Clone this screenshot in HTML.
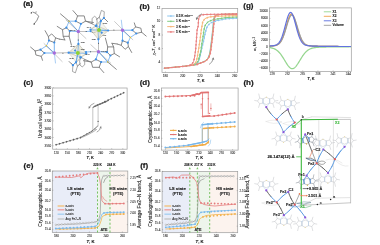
<!DOCTYPE html>
<html><head><meta charset="utf-8"><style>
html,body{margin:0;padding:0;background:#fff;width:380px;height:245px;overflow:hidden}
svg{display:block;font-family:"Liberation Sans",sans-serif;will-change:transform}
</style></head><body><svg width="380" height="245" viewBox="0 0 380 245">
<rect x="0" y="0" width="380" height="245" fill="#fff"/>
<polygon points="78.4,43.9 68.6,52.7 80.4,57.5" fill="#ebe8d6" fill-opacity="0.45" stroke="#b4b2a0" stroke-width="0.35"/>
<polygon points="78.4,43.9 80.4,57.5 86.3,53.5" fill="#ebe8d6" fill-opacity="0.45" stroke="#b4b2a0" stroke-width="0.35"/>
<polygon points="76.4,62.3 68.6,52.7 80.4,57.5" fill="#ebe8d6" fill-opacity="0.45" stroke="#b4b2a0" stroke-width="0.35"/>
<polygon points="76.4,62.3 80.4,57.5 86.3,53.5" fill="#ebe8d6" fill-opacity="0.45" stroke="#b4b2a0" stroke-width="0.35"/>
<polygon points="78.4,43.9 68.6,52.7 75.1,50.5" fill="#ebe8d6" fill-opacity="0.45" stroke="#b4b2a0" stroke-width="0.35"/>
<polygon points="78.4,43.9 75.1,50.5 86.3,53.5" fill="#ebe8d6" fill-opacity="0.45" stroke="#b4b2a0" stroke-width="0.35"/>
<polyline points="72.9,65.2 72.5,71.5 75.4,72.8 77.5,66.1 75.9,62.3 72.9,65.2" fill="none" stroke="#7c7c7c" stroke-width="0.65" stroke-linejoin="round" stroke-linecap="round" />
<line x1="72.9" y1="65.2" x2="71.2" y2="63.6" stroke="#7c7c7c" stroke-width="0.9" stroke-linecap="round"/>
<line x1="71.2" y1="63.6" x2="69.1" y2="61.5" stroke="#7c7c7c" stroke-width="0.9" stroke-linecap="round"/>
<polyline points="80.9,57.3 84.7,59.4 84.7,64.8 82.2,66.9 80.1,65.2 79.6,61 80.9,57.3" fill="none" stroke="#7c7c7c" stroke-width="0.65" stroke-linejoin="round" stroke-linecap="round" />
<line x1="77.5" y1="66.1" x2="80.1" y2="63.8" stroke="#7c7c7c" stroke-width="0.9" stroke-linecap="round"/>
<line x1="84.7" y1="59.4" x2="90.6" y2="61.9" stroke="#7c7c7c" stroke-width="0.9" stroke-linecap="round"/>
<line x1="72.9" y1="65.2" x2="75.9" y2="62.3" stroke="#3d8fe6" stroke-width="0.8" stroke-linecap="round"/>
<line x1="75.9" y1="62.3" x2="77.8" y2="53.1" stroke="#3d8fe6" stroke-width="0.6" stroke-linecap="round"/>
<polyline points="75.7,21.2 77.6,15.9 84.2,15.9 85.5,21.2 80.9,23.8 75.7,21.2" fill="none" stroke="#7c7c7c" stroke-width="0.9" stroke-linejoin="round" stroke-linecap="round" />
<line x1="77.6" y1="15.9" x2="73" y2="10.6" stroke="#7c7c7c" stroke-width="0.9" stroke-linecap="round"/>
<line x1="85.5" y1="21.2" x2="93.4" y2="22.5" stroke="#7c7c7c" stroke-width="0.9" stroke-linecap="round"/>
<line x1="69.1" y1="21.2" x2="75.7" y2="21.2" stroke="#3d8fe6" stroke-width="0.6" stroke-linecap="round"/>
<line x1="69.1" y1="21.2" x2="60.5" y2="13.9" stroke="#7c7c7c" stroke-width="0.9" stroke-linecap="round"/>
<line x1="69.1" y1="21.2" x2="78.3" y2="31.5" stroke="#3d8fe6" stroke-width="0.75" stroke-linecap="round"/>
<line x1="80.9" y1="23.8" x2="78.3" y2="31.5" stroke="#3d8fe6" stroke-width="0.7" stroke-linecap="round"/>
<line x1="66" y1="20" x2="86" y2="38.5" stroke="#7c7c7c" stroke-width="0.4" stroke-linecap="round"/>
<polyline points="66.4,27.7 69.7,31 69.1,36.3 63.2,36.3 62.5,29.7 66.4,27.7" fill="none" stroke="#7c7c7c" stroke-width="0.9" stroke-linejoin="round" stroke-linecap="round" />
<line x1="66.4" y1="27.7" x2="69.1" y2="21.2" stroke="#3d8fe6" stroke-width="0.6" stroke-linecap="round"/>
<line x1="69.7" y1="31" x2="78.3" y2="31.5" stroke="#3d8fe6" stroke-width="0.7" stroke-linecap="round"/>
<line x1="62.5" y1="29.7" x2="57.2" y2="26.4" stroke="#7c7c7c" stroke-width="0.9" stroke-linecap="round"/>
<line x1="69.1" y1="36.3" x2="71.4" y2="45.1" stroke="#7c7c7c" stroke-width="0.9" stroke-linecap="round"/>
<line x1="63.2" y1="36.3" x2="64.8" y2="39.9" stroke="#7c7c7c" stroke-width="0.9" stroke-linecap="round"/>
<line x1="64.8" y1="39.9" x2="59.6" y2="39.2" stroke="#7c7c7c" stroke-width="0.9" stroke-linecap="round"/>
<line x1="59.6" y1="39.2" x2="55.6" y2="37.9" stroke="#7c7c7c" stroke-width="0.9" stroke-linecap="round"/>
<polyline points="49,40.5 54.3,42.5 55.6,37.9 51.7,33.9 48.4,36.6 49,40.5" fill="none" stroke="#7c7c7c" stroke-width="0.9" stroke-linejoin="round" stroke-linecap="round" />
<line x1="48.4" y1="36.6" x2="45.1" y2="30.7" stroke="#7c7c7c" stroke-width="0.9" stroke-linecap="round"/>
<line x1="46.4" y1="45.8" x2="49" y2="40.5" stroke="#3d8fe6" stroke-width="0.6" stroke-linecap="round"/>
<line x1="46.4" y1="45.8" x2="40.5" y2="49.7" stroke="#3d8fe6" stroke-width="0.6" stroke-linecap="round"/>
<line x1="46.4" y1="45.8" x2="54.3" y2="53" stroke="#3d8fe6" stroke-width="0.7" stroke-linecap="round"/>
<line x1="54.3" y1="42.5" x2="54.3" y2="53" stroke="#3d8fe6" stroke-width="0.7" stroke-linecap="round"/>
<polyline points="35.2,51 40.5,49.7 44.4,53 41.2,56.3 35.9,55 35.2,51" fill="none" stroke="#7c7c7c" stroke-width="0.9" stroke-linejoin="round" stroke-linecap="round" />
<line x1="35.2" y1="51" x2="30.6" y2="47.1" stroke="#7c7c7c" stroke-width="0.9" stroke-linecap="round"/>
<line x1="41.2" y1="56.3" x2="42.5" y2="60.3" stroke="#7c7c7c" stroke-width="0.9" stroke-linecap="round"/>
<line x1="44.4" y1="53" x2="54.3" y2="53" stroke="#3d8fe6" stroke-width="0.7" stroke-linecap="round"/>
<line x1="44" y1="43.5" x2="62.2" y2="61.6" stroke="#7c7c7c" stroke-width="0.4" stroke-linecap="round"/>
<line x1="54.3" y1="53" x2="55.5" y2="63" stroke="#3d8fe6" stroke-width="0.45" stroke-linecap="round"/>
<line x1="54.3" y1="53" x2="68.6" y2="52.7" stroke="#7c7c7c" stroke-width="0.5" stroke-linecap="round"/>
<line x1="68.6" y1="52.7" x2="77.8" y2="53.1" stroke="#3d8fe6" stroke-width="0.6" stroke-linecap="round"/>
<line x1="78.3" y1="31.5" x2="86.2" y2="31.5" stroke="#7c7c7c" stroke-width="0.5" stroke-linecap="round"/>
<line x1="86.2" y1="31.5" x2="90.8" y2="31.2" stroke="#3d8fe6" stroke-width="0.6" stroke-linecap="round"/>
<line x1="78.3" y1="31.5" x2="78.3" y2="40" stroke="#7c7c7c" stroke-width="0.5" stroke-linecap="round"/>
<line x1="78.3" y1="40" x2="78.4" y2="43.9" stroke="#3d8fe6" stroke-width="0.6" stroke-linecap="round"/>
<line x1="78.4" y1="43.9" x2="77.8" y2="53.1" stroke="#3d8fe6" stroke-width="0.5" stroke-linecap="round"/>
<line x1="77.8" y1="53.1" x2="76.4" y2="62.3" stroke="#3d8fe6" stroke-width="0.5" stroke-linecap="round"/>
<line x1="68.6" y1="52.7" x2="86.3" y2="53.5" stroke="#3d8fe6" stroke-width="0.5" stroke-linecap="round"/>
<line x1="80.4" y1="57.5" x2="75.1" y2="50.5" stroke="#3d8fe6" stroke-width="0.5" stroke-linecap="round"/>
<circle cx="75.7" cy="21.2" r="1.1" fill="#3d8fe6" stroke="none" stroke-width="0.3"/>
<circle cx="80.9" cy="23.8" r="1.1" fill="#3d8fe6" stroke="none" stroke-width="0.3"/>
<circle cx="66.4" cy="27.7" r="1.1" fill="#3d8fe6" stroke="none" stroke-width="0.3"/>
<circle cx="69.7" cy="31" r="1.1" fill="#3d8fe6" stroke="none" stroke-width="0.3"/>
<circle cx="49" cy="40.5" r="1.1" fill="#3d8fe6" stroke="none" stroke-width="0.3"/>
<circle cx="54.3" cy="42.5" r="1.1" fill="#3d8fe6" stroke="none" stroke-width="0.3"/>
<circle cx="40.5" cy="49.7" r="1.1" fill="#3d8fe6" stroke="none" stroke-width="0.3"/>
<circle cx="44.4" cy="53" r="1.1" fill="#3d8fe6" stroke="none" stroke-width="0.3"/>
<circle cx="68.6" cy="52.7" r="1.1" fill="#3d8fe6" stroke="none" stroke-width="0.3"/>
<circle cx="90.8" cy="31.2" r="1.1" fill="#3d8fe6" stroke="none" stroke-width="0.3"/>
<circle cx="78.4" cy="43.9" r="1.1" fill="#3d8fe6" stroke="none" stroke-width="0.3"/>
<circle cx="86.3" cy="53.5" r="1.1" fill="#3d8fe6" stroke="none" stroke-width="0.3"/>
<circle cx="80.4" cy="57.5" r="1.1" fill="#3d8fe6" stroke="none" stroke-width="0.3"/>
<circle cx="75.1" cy="50.5" r="1.1" fill="#3d8fe6" stroke="none" stroke-width="0.3"/>
<circle cx="75.9" cy="62.3" r="1.1" fill="#3d8fe6" stroke="none" stroke-width="0.3"/>
<circle cx="72.9" cy="65.2" r="1.1" fill="#3d8fe6" stroke="none" stroke-width="0.3"/>
<circle cx="80.9" cy="57.3" r="1.1" fill="#3d8fe6" stroke="none" stroke-width="0.3"/>
<circle cx="62.9" cy="53.2" r="0.55" fill="#555" stroke="none" stroke-width="0.3"/>
<circle cx="86.2" cy="31.5" r="0.55" fill="#555" stroke="none" stroke-width="0.3"/>
<circle cx="78.3" cy="40" r="0.55" fill="#555" stroke="none" stroke-width="0.3"/>
<circle cx="69.1" cy="21.2" r="0.75" fill="#e9c22a" stroke="none" stroke-width="0.3"/>
<circle cx="46.4" cy="45.8" r="0.75" fill="#e9c22a" stroke="none" stroke-width="0.3"/>
<circle cx="78.3" cy="31.5" r="1.7" fill="#a66bdc" stroke="none" stroke-width="0.3"/>
<circle cx="54.3" cy="53" r="1.7" fill="#a66bdc" stroke="none" stroke-width="0.3"/>
<circle cx="77.8" cy="53.1" r="2" fill="#8fd334" stroke="none" stroke-width="0.3"/>
<text x="72.7" y="31" font-size="2.3" text-anchor="middle" font-weight="normal" fill="#3a3a3a" stroke="#3a3a3a" stroke-width="0.07" >Fe(1)</text>
<text x="89.1" y="28.2" font-size="2.3" text-anchor="middle" font-weight="normal" fill="#3a3a3a" stroke="#3a3a3a" stroke-width="0.07" >N(4)</text>
<text x="93.9" y="33" font-size="2.3" text-anchor="middle" font-weight="normal" fill="#3a3a3a" stroke="#3a3a3a" stroke-width="0.07" >N(6)</text>
<text x="93.9" y="40.4" font-size="2.3" text-anchor="middle" font-weight="normal" fill="#3a3a3a" stroke="#3a3a3a" stroke-width="0.07" >N(5)</text>
<text x="104" y="36.2" font-size="2.3" text-anchor="middle" font-weight="normal" fill="#3a3a3a" stroke="#3a3a3a" stroke-width="0.07" >N(3)</text>
<text x="105" y="24" font-size="2.3" text-anchor="middle" font-weight="normal" fill="#3a3a3a" stroke="#3a3a3a" stroke-width="0.07" >N(2)</text>
<polygon points="98.4,39.3 108.2,30.5 96.4,25.7" fill="#ebe8d6" fill-opacity="0.45" stroke="#b4b2a0" stroke-width="0.35"/>
<polygon points="98.4,39.3 96.4,25.7 90.5,29.7" fill="#ebe8d6" fill-opacity="0.45" stroke="#b4b2a0" stroke-width="0.35"/>
<polygon points="100.4,20.9 108.2,30.5 96.4,25.7" fill="#ebe8d6" fill-opacity="0.45" stroke="#b4b2a0" stroke-width="0.35"/>
<polygon points="100.4,20.9 96.4,25.7 90.5,29.7" fill="#ebe8d6" fill-opacity="0.45" stroke="#b4b2a0" stroke-width="0.35"/>
<polygon points="98.4,39.3 108.2,30.5 101.7,32.7" fill="#ebe8d6" fill-opacity="0.45" stroke="#b4b2a0" stroke-width="0.35"/>
<polygon points="98.4,39.3 101.7,32.7 90.5,29.7" fill="#ebe8d6" fill-opacity="0.45" stroke="#b4b2a0" stroke-width="0.35"/>
<polyline points="103.9,18 104.3,11.7 101.4,10.4 99.3,17.1 100.9,20.9 103.9,18" fill="none" stroke="#7c7c7c" stroke-width="0.65" stroke-linejoin="round" stroke-linecap="round" />
<line x1="103.9" y1="18" x2="105.6" y2="19.6" stroke="#7c7c7c" stroke-width="0.9" stroke-linecap="round"/>
<line x1="105.6" y1="19.6" x2="107.7" y2="21.7" stroke="#7c7c7c" stroke-width="0.9" stroke-linecap="round"/>
<polyline points="95.9,25.9 92.1,23.8 92.1,18.4 94.6,16.3 96.7,18 97.2,22.2 95.9,25.9" fill="none" stroke="#7c7c7c" stroke-width="0.65" stroke-linejoin="round" stroke-linecap="round" />
<line x1="99.3" y1="17.1" x2="96.7" y2="19.4" stroke="#7c7c7c" stroke-width="0.9" stroke-linecap="round"/>
<line x1="92.1" y1="23.8" x2="86.2" y2="21.3" stroke="#7c7c7c" stroke-width="0.9" stroke-linecap="round"/>
<line x1="103.9" y1="18" x2="100.9" y2="20.9" stroke="#3d8fe6" stroke-width="0.8" stroke-linecap="round"/>
<line x1="100.9" y1="20.9" x2="99" y2="30.1" stroke="#3d8fe6" stroke-width="0.6" stroke-linecap="round"/>
<polyline points="101.1,62 99.2,67.3 92.6,67.3 91.3,62 95.9,59.4 101.1,62" fill="none" stroke="#7c7c7c" stroke-width="0.9" stroke-linejoin="round" stroke-linecap="round" />
<line x1="99.2" y1="67.3" x2="103.8" y2="72.6" stroke="#7c7c7c" stroke-width="0.9" stroke-linecap="round"/>
<line x1="91.3" y1="62" x2="83.4" y2="60.7" stroke="#7c7c7c" stroke-width="0.9" stroke-linecap="round"/>
<line x1="107.7" y1="62" x2="101.1" y2="62" stroke="#3d8fe6" stroke-width="0.6" stroke-linecap="round"/>
<line x1="107.7" y1="62" x2="116.3" y2="69.3" stroke="#7c7c7c" stroke-width="0.9" stroke-linecap="round"/>
<line x1="107.7" y1="62" x2="98.5" y2="51.7" stroke="#3d8fe6" stroke-width="0.75" stroke-linecap="round"/>
<line x1="95.9" y1="59.4" x2="98.5" y2="51.7" stroke="#3d8fe6" stroke-width="0.7" stroke-linecap="round"/>
<line x1="110.8" y1="63.2" x2="90.8" y2="44.7" stroke="#7c7c7c" stroke-width="0.4" stroke-linecap="round"/>
<polyline points="110.4,55.5 107.1,52.2 107.7,46.9 113.6,46.9 114.3,53.5 110.4,55.5" fill="none" stroke="#7c7c7c" stroke-width="0.9" stroke-linejoin="round" stroke-linecap="round" />
<line x1="110.4" y1="55.5" x2="107.7" y2="62" stroke="#3d8fe6" stroke-width="0.6" stroke-linecap="round"/>
<line x1="107.1" y1="52.2" x2="98.5" y2="51.7" stroke="#3d8fe6" stroke-width="0.7" stroke-linecap="round"/>
<line x1="114.3" y1="53.5" x2="119.6" y2="56.8" stroke="#7c7c7c" stroke-width="0.9" stroke-linecap="round"/>
<line x1="107.7" y1="46.9" x2="105.4" y2="38.1" stroke="#7c7c7c" stroke-width="0.9" stroke-linecap="round"/>
<line x1="113.6" y1="46.9" x2="112" y2="43.3" stroke="#7c7c7c" stroke-width="0.9" stroke-linecap="round"/>
<line x1="112" y1="43.3" x2="117.2" y2="44" stroke="#7c7c7c" stroke-width="0.9" stroke-linecap="round"/>
<line x1="117.2" y1="44" x2="121.2" y2="45.3" stroke="#7c7c7c" stroke-width="0.9" stroke-linecap="round"/>
<polyline points="127.8,42.7 122.5,40.7 121.2,45.3 125.1,49.3 128.4,46.6 127.8,42.7" fill="none" stroke="#7c7c7c" stroke-width="0.9" stroke-linejoin="round" stroke-linecap="round" />
<line x1="128.4" y1="46.6" x2="131.7" y2="52.5" stroke="#7c7c7c" stroke-width="0.9" stroke-linecap="round"/>
<line x1="130.4" y1="37.4" x2="127.8" y2="42.7" stroke="#3d8fe6" stroke-width="0.6" stroke-linecap="round"/>
<line x1="130.4" y1="37.4" x2="136.3" y2="33.5" stroke="#3d8fe6" stroke-width="0.6" stroke-linecap="round"/>
<line x1="130.4" y1="37.4" x2="122.5" y2="30.2" stroke="#3d8fe6" stroke-width="0.7" stroke-linecap="round"/>
<line x1="122.5" y1="40.7" x2="122.5" y2="30.2" stroke="#3d8fe6" stroke-width="0.7" stroke-linecap="round"/>
<polyline points="141.6,32.2 136.3,33.5 132.4,30.2 135.6,26.9 140.9,28.2 141.6,32.2" fill="none" stroke="#7c7c7c" stroke-width="0.9" stroke-linejoin="round" stroke-linecap="round" />
<line x1="141.6" y1="32.2" x2="146.2" y2="36.1" stroke="#7c7c7c" stroke-width="0.9" stroke-linecap="round"/>
<line x1="135.6" y1="26.9" x2="134.3" y2="22.9" stroke="#7c7c7c" stroke-width="0.9" stroke-linecap="round"/>
<line x1="132.4" y1="30.2" x2="122.5" y2="30.2" stroke="#3d8fe6" stroke-width="0.7" stroke-linecap="round"/>
<line x1="132.8" y1="39.7" x2="114.6" y2="21.6" stroke="#7c7c7c" stroke-width="0.4" stroke-linecap="round"/>
<line x1="122.5" y1="30.2" x2="121.3" y2="20.2" stroke="#3d8fe6" stroke-width="0.45" stroke-linecap="round"/>
<line x1="122.5" y1="30.2" x2="108.2" y2="30.5" stroke="#7c7c7c" stroke-width="0.5" stroke-linecap="round"/>
<line x1="108.2" y1="30.5" x2="99" y2="30.1" stroke="#3d8fe6" stroke-width="0.6" stroke-linecap="round"/>
<line x1="98.5" y1="51.7" x2="90.6" y2="51.7" stroke="#7c7c7c" stroke-width="0.5" stroke-linecap="round"/>
<line x1="90.6" y1="51.7" x2="86" y2="52" stroke="#3d8fe6" stroke-width="0.6" stroke-linecap="round"/>
<line x1="98.5" y1="51.7" x2="98.5" y2="43.2" stroke="#7c7c7c" stroke-width="0.5" stroke-linecap="round"/>
<line x1="98.5" y1="43.2" x2="98.4" y2="39.3" stroke="#3d8fe6" stroke-width="0.6" stroke-linecap="round"/>
<line x1="98.4" y1="39.3" x2="99" y2="30.1" stroke="#3d8fe6" stroke-width="0.5" stroke-linecap="round"/>
<line x1="99" y1="30.1" x2="100.4" y2="20.9" stroke="#3d8fe6" stroke-width="0.5" stroke-linecap="round"/>
<line x1="108.2" y1="30.5" x2="90.5" y2="29.7" stroke="#3d8fe6" stroke-width="0.5" stroke-linecap="round"/>
<line x1="96.4" y1="25.7" x2="101.7" y2="32.7" stroke="#3d8fe6" stroke-width="0.5" stroke-linecap="round"/>
<circle cx="101.1" cy="62" r="1.1" fill="#3d8fe6" stroke="none" stroke-width="0.3"/>
<circle cx="95.9" cy="59.4" r="1.1" fill="#3d8fe6" stroke="none" stroke-width="0.3"/>
<circle cx="110.4" cy="55.5" r="1.1" fill="#3d8fe6" stroke="none" stroke-width="0.3"/>
<circle cx="107.1" cy="52.2" r="1.1" fill="#3d8fe6" stroke="none" stroke-width="0.3"/>
<circle cx="127.8" cy="42.7" r="1.1" fill="#3d8fe6" stroke="none" stroke-width="0.3"/>
<circle cx="122.5" cy="40.7" r="1.1" fill="#3d8fe6" stroke="none" stroke-width="0.3"/>
<circle cx="136.3" cy="33.5" r="1.1" fill="#3d8fe6" stroke="none" stroke-width="0.3"/>
<circle cx="132.4" cy="30.2" r="1.1" fill="#3d8fe6" stroke="none" stroke-width="0.3"/>
<circle cx="108.2" cy="30.5" r="1.1" fill="#3d8fe6" stroke="none" stroke-width="0.3"/>
<circle cx="86" cy="52" r="1.1" fill="#3d8fe6" stroke="none" stroke-width="0.3"/>
<circle cx="98.4" cy="39.3" r="1.1" fill="#3d8fe6" stroke="none" stroke-width="0.3"/>
<circle cx="90.5" cy="29.7" r="1.1" fill="#3d8fe6" stroke="none" stroke-width="0.3"/>
<circle cx="96.4" cy="25.7" r="1.1" fill="#3d8fe6" stroke="none" stroke-width="0.3"/>
<circle cx="101.7" cy="32.7" r="1.1" fill="#3d8fe6" stroke="none" stroke-width="0.3"/>
<circle cx="100.9" cy="20.9" r="1.1" fill="#3d8fe6" stroke="none" stroke-width="0.3"/>
<circle cx="103.9" cy="18" r="1.1" fill="#3d8fe6" stroke="none" stroke-width="0.3"/>
<circle cx="95.9" cy="25.9" r="1.1" fill="#3d8fe6" stroke="none" stroke-width="0.3"/>
<circle cx="113.9" cy="30" r="0.55" fill="#555" stroke="none" stroke-width="0.3"/>
<circle cx="90.6" cy="51.7" r="0.55" fill="#555" stroke="none" stroke-width="0.3"/>
<circle cx="98.5" cy="43.2" r="0.55" fill="#555" stroke="none" stroke-width="0.3"/>
<circle cx="107.7" cy="62" r="0.75" fill="#e9c22a" stroke="none" stroke-width="0.3"/>
<circle cx="130.4" cy="37.4" r="0.75" fill="#e9c22a" stroke="none" stroke-width="0.3"/>
<circle cx="98.5" cy="51.7" r="1.7" fill="#a66bdc" stroke="none" stroke-width="0.3"/>
<circle cx="122.5" cy="30.2" r="1.7" fill="#a66bdc" stroke="none" stroke-width="0.3"/>
<circle cx="99" cy="30.1" r="2" fill="#8fd334" stroke="none" stroke-width="0.3"/>
<text x="104.1" y="52.2" font-size="2.3" text-anchor="middle" font-weight="normal" fill="#3a3a3a" stroke="#3a3a3a" stroke-width="0.07" >Fe(1)</text>
<text x="87.7" y="55" font-size="2.3" text-anchor="middle" font-weight="normal" fill="#3a3a3a" stroke="#3a3a3a" stroke-width="0.07" >N(4)</text>
<text x="82.9" y="50.2" font-size="2.3" text-anchor="middle" font-weight="normal" fill="#3a3a3a" stroke="#3a3a3a" stroke-width="0.07" >N(6)</text>
<text x="82.9" y="42.8" font-size="2.3" text-anchor="middle" font-weight="normal" fill="#3a3a3a" stroke="#3a3a3a" stroke-width="0.07" >N(5)</text>
<text x="72.8" y="47" font-size="2.3" text-anchor="middle" font-weight="normal" fill="#3a3a3a" stroke="#3a3a3a" stroke-width="0.07" >N(3)</text>
<text x="71.8" y="59.2" font-size="2.3" text-anchor="middle" font-weight="normal" fill="#3a3a3a" stroke="#3a3a3a" stroke-width="0.07" >N(2)</text>
<polyline points="32.9,12.1 35.8,13.3 38.7,16.2 37,20.2 34.2,23.9" fill="none" stroke="#5a5a5a" stroke-width="0.7" stroke-linejoin="round" stroke-linecap="round" />
<line x1="35.8" y1="13.3" x2="36.2" y2="11.2" stroke="#666" stroke-width="0.55" />
<circle cx="34.2" cy="23.9" r="0.75" fill="#444" stroke="none" stroke-width="0.3"/>
<circle cx="31.4" cy="12.6" r="0.7" fill="#555" stroke="none" stroke-width="0.3"/>
<text x="31.4" y="13.5" font-size="2.2" text-anchor="middle" font-weight="normal" fill="#555" stroke="#555" stroke-width="0.07" >c</text>
<text x="23.2" y="6.4" font-size="8" text-anchor="start" font-weight="bold" fill="#1a1a1a" stroke="#1a1a1a" stroke-width="0.24" >(a)</text>
<text x="139.5" y="9.2" font-size="8" text-anchor="start" font-weight="bold" fill="#1a1a1a" stroke="#1a1a1a" stroke-width="0.24" >(b)</text>
<text x="243.3" y="8.4" font-size="8" text-anchor="start" font-weight="bold" fill="#1a1a1a" stroke="#1a1a1a" stroke-width="0.24" >(g)</text>
<text x="23.4" y="85.2" font-size="8" text-anchor="start" font-weight="bold" fill="#1a1a1a" stroke="#1a1a1a" stroke-width="0.24" >(c)</text>
<text x="139.7" y="84.6" font-size="8" text-anchor="start" font-weight="bold" fill="#1a1a1a" stroke="#1a1a1a" stroke-width="0.24" >(d)</text>
<text x="243.4" y="85.2" font-size="8" text-anchor="start" font-weight="bold" fill="#1a1a1a" stroke="#1a1a1a" stroke-width="0.24" >(h)</text>
<text x="23.6" y="168.4" font-size="8" text-anchor="start" font-weight="bold" fill="#1a1a1a" stroke="#1a1a1a" stroke-width="0.24" >(e)</text>
<text x="140.2" y="168.3" font-size="8" text-anchor="start" font-weight="bold" fill="#1a1a1a" stroke="#1a1a1a" stroke-width="0.24" >(f)</text>
<rect x="162" y="8.5" width="75.7" height="63.9" fill="none" stroke="#9c9c9c" stroke-width="0.7"/>
<text x="160.3" y="9.35" font-size="3.12" text-anchor="end" font-weight="normal" fill="#383838" stroke="#383838" stroke-width="0.09" >12</text>
<text x="160.3" y="22.45" font-size="3.12" text-anchor="end" font-weight="normal" fill="#383838" stroke="#383838" stroke-width="0.09" >10</text>
<text x="160.3" y="36.05" font-size="3.12" text-anchor="end" font-weight="normal" fill="#383838" stroke="#383838" stroke-width="0.09" >8</text>
<text x="160.3" y="49.55" font-size="3.12" text-anchor="end" font-weight="normal" fill="#383838" stroke="#383838" stroke-width="0.09" >6</text>
<text x="160.3" y="63.05" font-size="3.12" text-anchor="end" font-weight="normal" fill="#383838" stroke="#383838" stroke-width="0.09" >4</text>
<line x1="162" y1="21.4" x2="163" y2="21.4" stroke="#777" stroke-width="0.4" />
<line x1="162" y1="35" x2="163" y2="35" stroke="#777" stroke-width="0.4" />
<line x1="162" y1="48.5" x2="163" y2="48.5" stroke="#777" stroke-width="0.4" />
<line x1="162" y1="62" x2="163" y2="62" stroke="#777" stroke-width="0.4" />
<text x="165.4" y="76.55" font-size="3.12" text-anchor="middle" font-weight="normal" fill="#383838" stroke="#383838" stroke-width="0.09" >180</text>
<text x="182.7" y="76.55" font-size="3.12" text-anchor="middle" font-weight="normal" fill="#383838" stroke="#383838" stroke-width="0.09" >200</text>
<text x="200" y="76.55" font-size="3.12" text-anchor="middle" font-weight="normal" fill="#383838" stroke="#383838" stroke-width="0.09" >220</text>
<text x="217.3" y="76.55" font-size="3.12" text-anchor="middle" font-weight="normal" fill="#383838" stroke="#383838" stroke-width="0.09" >240</text>
<text x="234.6" y="76.55" font-size="3.12" text-anchor="middle" font-weight="normal" fill="#383838" stroke="#383838" stroke-width="0.09" >260</text>
<line x1="165.4" y1="72.4" x2="165.4" y2="71.4" stroke="#777" stroke-width="0.4" />
<line x1="182.7" y1="72.4" x2="182.7" y2="71.4" stroke="#777" stroke-width="0.4" />
<line x1="200" y1="72.4" x2="200" y2="71.4" stroke="#777" stroke-width="0.4" />
<line x1="217.3" y1="72.4" x2="217.3" y2="71.4" stroke="#777" stroke-width="0.4" />
<line x1="234.6" y1="72.4" x2="234.6" y2="71.4" stroke="#777" stroke-width="0.4" />
<text x="200.8" y="82" font-size="3.9" text-anchor="middle" font-weight="bold" fill="#222" stroke="#222" stroke-width="0.12" ><tspan font-style="italic">T</tspan>, K</text>
<text x="154.6" y="39.9" font-size="4.15" text-anchor="middle" font-weight="normal" fill="#333" stroke="#333" stroke-width="0.12" transform="rotate(-90 154.6 39.9)" ><tspan font-style="italic">χ</tspan><tspan font-size="2.4" dy="0.8">M</tspan><tspan font-style="italic" dy="-0.8">T</tspan>, cm<tspan font-size="2.4" dy="-1.2">3</tspan><tspan dy="1.2"> mol</tspan><tspan font-size="2.4" dy="-1.2">−1</tspan><tspan dy="1.2"> K</tspan></text>
<polyline points="163.95,68.2 174.25,67.2 184.25,66.2 190.25,65.4 196.25,64.4 201.25,62.6 204.75,61.1 207.75,58.4 209.45,54 210.15,50 211.45,40 212.45,31 212.95,26 213.55,19 214.55,16 216.25,14.8 221.25,14.4 235.75,14.1" fill="none" stroke="#8ec6ee" stroke-width="0.95" stroke-linejoin="round" stroke-linecap="round" />
<polyline points="164.2,68.2 174.5,67.2 184.5,66.2 190.5,65.4 196.5,64.4 201.5,62.6 205,61.1 208,58.4 209.7,54 210.4,50 211.7,40 212.7,31 213.2,26 213.8,19 214.8,16 216.5,14.8 221.5,14.4 236,14.1" fill="none" stroke="#82cc82" stroke-width="0.95" stroke-linejoin="round" stroke-linecap="round" />
<polyline points="164.45,68.2 174.75,67.2 184.75,66.2 190.75,65.4 196.75,64.4 201.75,62.6 205.25,61.1 208.25,58.4 209.95,54 210.65,50 211.95,40 212.95,31 213.45,26 214.05,19 215.05,16 216.75,14.8 221.75,14.4 236.25,14.1" fill="none" stroke="#f6b87c" stroke-width="0.95" stroke-linejoin="round" stroke-linecap="round" />
<polyline points="164.7,68.2 175,67.2 185,66.2 191,65.4 197,64.4 202,62.6 205.5,61.1 208.5,58.4 210.2,54 210.9,50 212.2,40 213.2,31 213.7,26 214.3,19 215.3,16 217,14.8 222,14.4 236.5,14.1" fill="none" stroke="#e98080" stroke-width="0.95" stroke-linejoin="round" stroke-linecap="round" />
<polyline points="236.5,18.2 226,18.8 216,20.8 210.5,23 207.8,25.5 206.6,28 205.2,33 203.8,40 202.3,46 201.4,50 200.2,56 198.8,61.2 197.2,62.8 195,64.4" fill="none" stroke="#8ec6ee" stroke-width="0.95" stroke-linejoin="round" stroke-linecap="round" />
<circle cx="236.5" cy="18.2" r="0.85" fill="#8ec6ee" stroke="none" stroke-width="0.3"/>
<circle cx="232.9" cy="18.41" r="0.85" fill="#8ec6ee" stroke="none" stroke-width="0.3"/>
<circle cx="229.29" cy="18.61" r="0.85" fill="#8ec6ee" stroke="none" stroke-width="0.3"/>
<circle cx="225.69" cy="18.86" r="0.85" fill="#8ec6ee" stroke="none" stroke-width="0.3"/>
<circle cx="222.15" cy="19.57" r="0.85" fill="#8ec6ee" stroke="none" stroke-width="0.3"/>
<circle cx="218.61" cy="20.28" r="0.85" fill="#8ec6ee" stroke="none" stroke-width="0.3"/>
<circle cx="215.12" cy="21.15" r="0.85" fill="#8ec6ee" stroke="none" stroke-width="0.3"/>
<circle cx="211.77" cy="22.49" r="0.85" fill="#8ec6ee" stroke="none" stroke-width="0.3"/>
<circle cx="208.86" cy="24.52" r="0.85" fill="#8ec6ee" stroke="none" stroke-width="0.3"/>
<circle cx="206.86" cy="27.46" r="0.85" fill="#8ec6ee" stroke="none" stroke-width="0.3"/>
<circle cx="205.79" cy="30.89" r="0.85" fill="#8ec6ee" stroke="none" stroke-width="0.3"/>
<circle cx="204.92" cy="34.4" r="0.85" fill="#8ec6ee" stroke="none" stroke-width="0.3"/>
<circle cx="204.21" cy="37.93" r="0.85" fill="#8ec6ee" stroke="none" stroke-width="0.3"/>
<circle cx="203.44" cy="41.46" r="0.85" fill="#8ec6ee" stroke="none" stroke-width="0.3"/>
<circle cx="202.56" cy="44.96" r="0.85" fill="#8ec6ee" stroke="none" stroke-width="0.3"/>
<circle cx="201.74" cy="48.48" r="0.85" fill="#8ec6ee" stroke="none" stroke-width="0.3"/>
<circle cx="201" cy="52.01" r="0.85" fill="#8ec6ee" stroke="none" stroke-width="0.3"/>
<circle cx="200.29" cy="55.55" r="0.85" fill="#8ec6ee" stroke="none" stroke-width="0.3"/>
<circle cx="199.38" cy="59.04" r="0.85" fill="#8ec6ee" stroke="none" stroke-width="0.3"/>
<circle cx="197.83" cy="62.17" r="0.85" fill="#8ec6ee" stroke="none" stroke-width="0.3"/>
<circle cx="195" cy="64.4" r="0.85" fill="#8ec6ee" stroke="none" stroke-width="0.3"/>
<polyline points="236.5,17 226,17.6 213.3,19.6 208.5,21.5 206,24 204.9,26 204,30 202.8,38 201.8,44 201,50 199.6,56 198.2,61 197,62.6 195,64.4" fill="none" stroke="#82cc82" stroke-width="0.95" stroke-linejoin="round" stroke-linecap="round" />
<circle cx="236.5" cy="17" r="0.85" fill="#82cc82" stroke="none" stroke-width="0.3"/>
<circle cx="232.77" cy="17.21" r="0.85" fill="#82cc82" stroke="none" stroke-width="0.3"/>
<circle cx="229.04" cy="17.43" r="0.85" fill="#82cc82" stroke="none" stroke-width="0.3"/>
<circle cx="225.32" cy="17.71" r="0.85" fill="#82cc82" stroke="none" stroke-width="0.3"/>
<circle cx="221.63" cy="18.29" r="0.85" fill="#82cc82" stroke="none" stroke-width="0.3"/>
<circle cx="217.94" cy="18.87" r="0.85" fill="#82cc82" stroke="none" stroke-width="0.3"/>
<circle cx="214.24" cy="19.45" r="0.85" fill="#82cc82" stroke="none" stroke-width="0.3"/>
<circle cx="210.72" cy="20.62" r="0.85" fill="#82cc82" stroke="none" stroke-width="0.3"/>
<circle cx="207.54" cy="22.46" r="0.85" fill="#82cc82" stroke="none" stroke-width="0.3"/>
<circle cx="205.25" cy="25.36" r="0.85" fill="#82cc82" stroke="none" stroke-width="0.3"/>
<circle cx="204.24" cy="28.93" r="0.85" fill="#82cc82" stroke="none" stroke-width="0.3"/>
<circle cx="203.61" cy="32.61" r="0.85" fill="#82cc82" stroke="none" stroke-width="0.3"/>
<circle cx="203.05" cy="36.31" r="0.85" fill="#82cc82" stroke="none" stroke-width="0.3"/>
<circle cx="202.47" cy="40" r="0.85" fill="#82cc82" stroke="none" stroke-width="0.3"/>
<circle cx="201.85" cy="43.68" r="0.85" fill="#82cc82" stroke="none" stroke-width="0.3"/>
<circle cx="201.35" cy="47.39" r="0.85" fill="#82cc82" stroke="none" stroke-width="0.3"/>
<circle cx="200.75" cy="51.07" r="0.85" fill="#82cc82" stroke="none" stroke-width="0.3"/>
<circle cx="199.9" cy="54.71" r="0.85" fill="#82cc82" stroke="none" stroke-width="0.3"/>
<circle cx="198.95" cy="58.32" r="0.85" fill="#82cc82" stroke="none" stroke-width="0.3"/>
<circle cx="197.63" cy="61.76" r="0.85" fill="#82cc82" stroke="none" stroke-width="0.3"/>
<circle cx="195" cy="64.4" r="0.85" fill="#82cc82" stroke="none" stroke-width="0.3"/>
<polyline points="236.5,15.6 226,15.9 215,16.4 209.1,17 205,18.6 202.8,21.5 202,26 201.3,30 200.3,38 199.4,44 198.5,50 197.5,56 196.5,60.5 195.5,62.8 193,64.8" fill="none" stroke="#f6b87c" stroke-width="0.95" stroke-linejoin="round" stroke-linecap="round" />
<circle cx="236.5" cy="15.6" r="0.85" fill="#f6b87c" stroke="none" stroke-width="0.3"/>
<circle cx="232.83" cy="15.7" r="0.85" fill="#f6b87c" stroke="none" stroke-width="0.3"/>
<circle cx="229.17" cy="15.81" r="0.85" fill="#f6b87c" stroke="none" stroke-width="0.3"/>
<circle cx="225.5" cy="15.92" r="0.85" fill="#f6b87c" stroke="none" stroke-width="0.3"/>
<circle cx="221.83" cy="16.09" r="0.85" fill="#f6b87c" stroke="none" stroke-width="0.3"/>
<circle cx="218.17" cy="16.26" r="0.85" fill="#f6b87c" stroke="none" stroke-width="0.3"/>
<circle cx="214.5" cy="16.45" r="0.85" fill="#f6b87c" stroke="none" stroke-width="0.3"/>
<circle cx="210.85" cy="16.82" r="0.85" fill="#f6b87c" stroke="none" stroke-width="0.3"/>
<circle cx="207.32" cy="17.69" r="0.85" fill="#f6b87c" stroke="none" stroke-width="0.3"/>
<circle cx="204.29" cy="19.53" r="0.85" fill="#f6b87c" stroke="none" stroke-width="0.3"/>
<circle cx="202.59" cy="22.68" r="0.85" fill="#f6b87c" stroke="none" stroke-width="0.3"/>
<circle cx="201.95" cy="26.3" r="0.85" fill="#f6b87c" stroke="none" stroke-width="0.3"/>
<circle cx="201.32" cy="29.91" r="0.85" fill="#f6b87c" stroke="none" stroke-width="0.3"/>
<circle cx="200.86" cy="33.55" r="0.85" fill="#f6b87c" stroke="none" stroke-width="0.3"/>
<circle cx="200.4" cy="37.19" r="0.85" fill="#f6b87c" stroke="none" stroke-width="0.3"/>
<circle cx="199.88" cy="40.82" r="0.85" fill="#f6b87c" stroke="none" stroke-width="0.3"/>
<circle cx="199.33" cy="44.45" r="0.85" fill="#f6b87c" stroke="none" stroke-width="0.3"/>
<circle cx="198.79" cy="48.08" r="0.85" fill="#f6b87c" stroke="none" stroke-width="0.3"/>
<circle cx="198.22" cy="51.7" r="0.85" fill="#f6b87c" stroke="none" stroke-width="0.3"/>
<circle cx="197.61" cy="55.32" r="0.85" fill="#f6b87c" stroke="none" stroke-width="0.3"/>
<circle cx="196.85" cy="58.91" r="0.85" fill="#f6b87c" stroke="none" stroke-width="0.3"/>
<circle cx="195.69" cy="62.37" r="0.85" fill="#f6b87c" stroke="none" stroke-width="0.3"/>
<circle cx="193" cy="64.8" r="0.85" fill="#f6b87c" stroke="none" stroke-width="0.3"/>
<polyline points="236.5,14.1 215,14.3 205,14.5 201.3,14.9 199.5,16.3 198.5,19.5 198.2,26 197.1,30 196.4,40 195.6,50 194.6,57 193.6,61.5 192,64 190,65" fill="none" stroke="#e98080" stroke-width="0.95" stroke-linejoin="round" stroke-linecap="round" />
<circle cx="236.5" cy="14.1" r="0.85" fill="#e98080" stroke="none" stroke-width="0.3"/>
<circle cx="232.81" cy="14.13" r="0.85" fill="#e98080" stroke="none" stroke-width="0.3"/>
<circle cx="229.13" cy="14.17" r="0.85" fill="#e98080" stroke="none" stroke-width="0.3"/>
<circle cx="225.44" cy="14.2" r="0.85" fill="#e98080" stroke="none" stroke-width="0.3"/>
<circle cx="221.76" cy="14.24" r="0.85" fill="#e98080" stroke="none" stroke-width="0.3"/>
<circle cx="218.07" cy="14.27" r="0.85" fill="#e98080" stroke="none" stroke-width="0.3"/>
<circle cx="214.39" cy="14.31" r="0.85" fill="#e98080" stroke="none" stroke-width="0.3"/>
<circle cx="210.7" cy="14.39" r="0.85" fill="#e98080" stroke="none" stroke-width="0.3"/>
<circle cx="207.02" cy="14.46" r="0.85" fill="#e98080" stroke="none" stroke-width="0.3"/>
<circle cx="203.34" cy="14.68" r="0.85" fill="#e98080" stroke="none" stroke-width="0.3"/>
<circle cx="200.01" cy="15.9" r="0.85" fill="#e98080" stroke="none" stroke-width="0.3"/>
<circle cx="198.59" cy="19.2" r="0.85" fill="#e98080" stroke="none" stroke-width="0.3"/>
<circle cx="198.34" cy="22.87" r="0.85" fill="#e98080" stroke="none" stroke-width="0.3"/>
<circle cx="198.05" cy="26.53" r="0.85" fill="#e98080" stroke="none" stroke-width="0.3"/>
<circle cx="197.09" cy="30.09" r="0.85" fill="#e98080" stroke="none" stroke-width="0.3"/>
<circle cx="196.84" cy="33.76" r="0.85" fill="#e98080" stroke="none" stroke-width="0.3"/>
<circle cx="196.58" cy="37.44" r="0.85" fill="#e98080" stroke="none" stroke-width="0.3"/>
<circle cx="196.31" cy="41.11" r="0.85" fill="#e98080" stroke="none" stroke-width="0.3"/>
<circle cx="196.02" cy="44.79" r="0.85" fill="#e98080" stroke="none" stroke-width="0.3"/>
<circle cx="195.72" cy="48.46" r="0.85" fill="#e98080" stroke="none" stroke-width="0.3"/>
<circle cx="195.3" cy="52.12" r="0.85" fill="#e98080" stroke="none" stroke-width="0.3"/>
<circle cx="194.78" cy="55.77" r="0.85" fill="#e98080" stroke="none" stroke-width="0.3"/>
<circle cx="194.07" cy="59.38" r="0.85" fill="#e98080" stroke="none" stroke-width="0.3"/>
<circle cx="192.78" cy="62.78" r="0.85" fill="#e98080" stroke="none" stroke-width="0.3"/>
<circle cx="190" cy="65" r="0.85" fill="#e98080" stroke="none" stroke-width="0.3"/>
<circle cx="197" cy="64.4" r="0.85" fill="#e98080" stroke="none" stroke-width="0.3"/>
<circle cx="200.49" cy="63.14" r="0.85" fill="#e98080" stroke="none" stroke-width="0.3"/>
<circle cx="203.93" cy="61.77" r="0.85" fill="#e98080" stroke="none" stroke-width="0.3"/>
<circle cx="206.99" cy="59.76" r="0.85" fill="#e98080" stroke="none" stroke-width="0.3"/>
<circle cx="209.1" cy="56.83" r="0.85" fill="#e98080" stroke="none" stroke-width="0.3"/>
<circle cx="210.32" cy="53.34" r="0.85" fill="#e98080" stroke="none" stroke-width="0.3"/>
<circle cx="210.94" cy="49.68" r="0.85" fill="#e98080" stroke="none" stroke-width="0.3"/>
<circle cx="211.42" cy="46.01" r="0.85" fill="#e98080" stroke="none" stroke-width="0.3"/>
<circle cx="211.9" cy="42.33" r="0.85" fill="#e98080" stroke="none" stroke-width="0.3"/>
<circle cx="212.35" cy="38.65" r="0.85" fill="#e98080" stroke="none" stroke-width="0.3"/>
<circle cx="212.76" cy="34.96" r="0.85" fill="#e98080" stroke="none" stroke-width="0.3"/>
<circle cx="213.17" cy="31.28" r="0.85" fill="#e98080" stroke="none" stroke-width="0.3"/>
<circle cx="213.54" cy="27.58" r="0.85" fill="#e98080" stroke="none" stroke-width="0.3"/>
<circle cx="213.88" cy="23.89" r="0.85" fill="#e98080" stroke="none" stroke-width="0.3"/>
<circle cx="214.2" cy="20.2" r="0.85" fill="#e98080" stroke="none" stroke-width="0.3"/>
<circle cx="215.09" cy="16.62" r="0.85" fill="#e98080" stroke="none" stroke-width="0.3"/>
<circle cx="217.97" cy="14.72" r="0.85" fill="#e98080" stroke="none" stroke-width="0.3"/>
<circle cx="221.67" cy="14.43" r="0.85" fill="#e98080" stroke="none" stroke-width="0.3"/>
<circle cx="225.38" cy="14.33" r="0.85" fill="#e98080" stroke="none" stroke-width="0.3"/>
<circle cx="229.08" cy="14.25" r="0.85" fill="#e98080" stroke="none" stroke-width="0.3"/>
<circle cx="232.79" cy="14.18" r="0.85" fill="#e98080" stroke="none" stroke-width="0.3"/>
<circle cx="236.5" cy="14.1" r="0.85" fill="#e98080" stroke="none" stroke-width="0.3"/>
<circle cx="164.7" cy="68.2" r="0.85" fill="#e98080" stroke="none" stroke-width="0.3"/>
<circle cx="168.3" cy="67.85" r="0.85" fill="#e98080" stroke="none" stroke-width="0.3"/>
<circle cx="171.9" cy="67.5" r="0.85" fill="#e98080" stroke="none" stroke-width="0.3"/>
<circle cx="175.49" cy="67.15" r="0.85" fill="#e98080" stroke="none" stroke-width="0.3"/>
<circle cx="179.09" cy="66.79" r="0.85" fill="#e98080" stroke="none" stroke-width="0.3"/>
<circle cx="182.69" cy="66.43" r="0.85" fill="#e98080" stroke="none" stroke-width="0.3"/>
<circle cx="186.28" cy="66.03" r="0.85" fill="#e98080" stroke="none" stroke-width="0.3"/>
<circle cx="189.86" cy="65.55" r="0.85" fill="#e98080" stroke="none" stroke-width="0.3"/>
<circle cx="193.43" cy="64.99" r="0.85" fill="#e98080" stroke="none" stroke-width="0.3"/>
<circle cx="197" cy="64.4" r="0.85" fill="#e98080" stroke="none" stroke-width="0.3"/>
<line x1="167.2" y1="16" x2="174.5" y2="16" stroke="#8ec6ee" stroke-width="1" />
<circle cx="170.9" cy="16" r="0.85" fill="#8ec6ee" stroke="none" stroke-width="0.3"/>
<text x="176" y="17.15" font-size="3.2" text-anchor="start" font-weight="bold" fill="#2a2a2a" stroke="#2a2a2a" stroke-width="0.1" >0.5 K min<tspan font-size="2.2" dy="-1">−1</tspan></text>
<line x1="167.2" y1="21.3" x2="174.5" y2="21.3" stroke="#82cc82" stroke-width="1" />
<circle cx="170.9" cy="21.3" r="0.85" fill="#82cc82" stroke="none" stroke-width="0.3"/>
<text x="176" y="22.45" font-size="3.2" text-anchor="start" font-weight="bold" fill="#2a2a2a" stroke="#2a2a2a" stroke-width="0.1" >1 K min<tspan font-size="2.2" dy="-1">−1</tspan></text>
<line x1="167.2" y1="26.6" x2="174.5" y2="26.6" stroke="#f6b87c" stroke-width="1" />
<circle cx="170.9" cy="26.6" r="0.85" fill="#f6b87c" stroke="none" stroke-width="0.3"/>
<text x="176" y="27.75" font-size="3.2" text-anchor="start" font-weight="bold" fill="#2a2a2a" stroke="#2a2a2a" stroke-width="0.1" >3 K min<tspan font-size="2.2" dy="-1">−1</tspan></text>
<line x1="167.2" y1="31.9" x2="174.5" y2="31.9" stroke="#e98080" stroke-width="1" />
<circle cx="170.9" cy="31.9" r="0.85" fill="#e98080" stroke="none" stroke-width="0.3"/>
<text x="176" y="33.05" font-size="3.2" text-anchor="start" font-weight="bold" fill="#2a2a2a" stroke="#2a2a2a" stroke-width="0.1" >5 K min<tspan font-size="2.2" dy="-1">−1</tspan></text>
<path d="M201.6,13.9 Q198,15.2 196.6,18.6" fill="none" stroke="#444" stroke-width="0.5" stroke-linecap="round" stroke-linejoin="round" />
<path d="M196.5,19.2 l-0.1,-1.6 M196.5,19.2 l1.3,-0.9" fill="none" stroke="#444" stroke-width="0.5" stroke-linecap="round" stroke-linejoin="round" />
<path d="M209.4,64.3 Q212.6,62.6 213.2,58.6" fill="none" stroke="#444" stroke-width="0.5" stroke-linecap="round" stroke-linejoin="round" />
<path d="M213.3,58.2 l-1.1,1.0 M213.3,58.2 l0.4,1.5" fill="none" stroke="#444" stroke-width="0.5" stroke-linecap="round" stroke-linejoin="round" />
<rect x="269.5" y="7.9" width="81.8" height="63.5" fill="none" stroke="#9c9c9c" stroke-width="0.7"/>
<text x="267.8" y="12.45" font-size="3.02" text-anchor="end" font-weight="normal" fill="#383838" stroke="#383838" stroke-width="0.09" >10000</text>
<text x="267.8" y="19.49" font-size="3.02" text-anchor="end" font-weight="normal" fill="#383838" stroke="#383838" stroke-width="0.09" >8000</text>
<text x="267.8" y="26.53" font-size="3.02" text-anchor="end" font-weight="normal" fill="#383838" stroke="#383838" stroke-width="0.09" >6000</text>
<text x="267.8" y="33.57" font-size="3.02" text-anchor="end" font-weight="normal" fill="#383838" stroke="#383838" stroke-width="0.09" >4000</text>
<text x="267.8" y="40.61" font-size="3.02" text-anchor="end" font-weight="normal" fill="#383838" stroke="#383838" stroke-width="0.09" >2000</text>
<text x="267.8" y="47.65" font-size="3.02" text-anchor="end" font-weight="normal" fill="#383838" stroke="#383838" stroke-width="0.09" >0</text>
<text x="267.8" y="54.69" font-size="3.02" text-anchor="end" font-weight="normal" fill="#383838" stroke="#383838" stroke-width="0.09" >−2000</text>
<text x="267.8" y="61.73" font-size="3.02" text-anchor="end" font-weight="normal" fill="#383838" stroke="#383838" stroke-width="0.09" >−4000</text>
<text x="267.8" y="68.77" font-size="3.02" text-anchor="end" font-weight="normal" fill="#383838" stroke="#383838" stroke-width="0.09" >−6000</text>
<line x1="269.5" y1="67.72" x2="270.5" y2="67.72" stroke="#777" stroke-width="0.4" />
<line x1="269.5" y1="60.68" x2="270.5" y2="60.68" stroke="#777" stroke-width="0.4" />
<line x1="269.5" y1="53.64" x2="270.5" y2="53.64" stroke="#777" stroke-width="0.4" />
<line x1="269.5" y1="46.6" x2="270.5" y2="46.6" stroke="#777" stroke-width="0.4" />
<line x1="269.5" y1="39.56" x2="270.5" y2="39.56" stroke="#777" stroke-width="0.4" />
<line x1="269.5" y1="32.52" x2="270.5" y2="32.52" stroke="#777" stroke-width="0.4" />
<line x1="269.5" y1="25.48" x2="270.5" y2="25.48" stroke="#777" stroke-width="0.4" />
<line x1="269.5" y1="18.44" x2="270.5" y2="18.44" stroke="#777" stroke-width="0.4" />
<line x1="269.5" y1="11.4" x2="270.5" y2="11.4" stroke="#777" stroke-width="0.4" />
<text x="272.3" y="75.05" font-size="3.02" text-anchor="middle" font-weight="normal" fill="#383838" stroke="#383838" stroke-width="0.09" >229</text>
<text x="287.51" y="75.05" font-size="3.02" text-anchor="middle" font-weight="normal" fill="#383838" stroke="#383838" stroke-width="0.09" >232</text>
<text x="302.72" y="75.05" font-size="3.02" text-anchor="middle" font-weight="normal" fill="#383838" stroke="#383838" stroke-width="0.09" >235</text>
<text x="317.93" y="75.05" font-size="3.02" text-anchor="middle" font-weight="normal" fill="#383838" stroke="#383838" stroke-width="0.09" >238</text>
<text x="333.14" y="75.05" font-size="3.02" text-anchor="middle" font-weight="normal" fill="#383838" stroke="#383838" stroke-width="0.09" >241</text>
<text x="348.35" y="75.05" font-size="3.02" text-anchor="middle" font-weight="normal" fill="#383838" stroke="#383838" stroke-width="0.09" >244</text>
<line x1="272.3" y1="71.4" x2="272.3" y2="70.4" stroke="#777" stroke-width="0.4" />
<line x1="287.51" y1="71.4" x2="287.51" y2="70.4" stroke="#777" stroke-width="0.4" />
<line x1="302.72" y1="71.4" x2="302.72" y2="70.4" stroke="#777" stroke-width="0.4" />
<line x1="317.93" y1="71.4" x2="317.93" y2="70.4" stroke="#777" stroke-width="0.4" />
<line x1="333.14" y1="71.4" x2="333.14" y2="70.4" stroke="#777" stroke-width="0.4" />
<line x1="348.35" y1="71.4" x2="348.35" y2="70.4" stroke="#777" stroke-width="0.4" />
<text x="311" y="80.2" font-size="3.9" text-anchor="middle" font-weight="bold" fill="#222" stroke="#222" stroke-width="0.12" ><tspan font-style="italic">T</tspan>, K</text>
<text x="256.2" y="43.9" font-size="4" text-anchor="middle" font-weight="normal" fill="#333" stroke="#333" stroke-width="0.12" transform="rotate(-90 256.2 43.9)" >α, MK<tspan font-size="2.6" dy="-1.3">−1</tspan></text>
<polyline points="270,47.66 270.5,47.74 271,47.83 271.5,47.94 272,48.06 272.5,48.19 273,48.34 273.5,48.51 274,48.7 274.5,48.92 275,49.16 275.5,49.42 276,49.72 276.5,50.05 277,50.41 277.5,50.81 278,51.24 278.5,51.71 279,52.22 279.5,52.76 280,53.35 280.5,53.97 281,54.63 281.5,55.33 282,56.06 282.5,56.81 283,57.6 283.5,58.4 284,59.22 284.5,60.05 285,60.88 285.5,61.71 286,62.53 286.5,63.33 287,64.1 287.5,64.84 288,65.54 288.5,66.18 289,66.76 289.5,67.28 290,67.72 290.5,68.08 291,68.36 291.5,68.55 292,68.65 292.5,68.66 293,68.58 293.5,68.41 294,68.14 294.5,67.8 295,67.37 295.5,66.87 296,66.3 296.5,65.67 297,64.98 297.5,64.26 298,63.49 298.5,62.69 299,61.88 299.5,61.05 300,60.22 300.5,59.39 301,58.56 301.5,57.76 302,56.97 302.5,56.21 303,55.47 303.5,54.77 304,54.1 304.5,53.47 305,52.88 305.5,52.32 306,51.81 306.5,51.33 307,50.89 307.5,50.49 308,50.12 308.5,49.78 309,49.48 309.5,49.21 310,48.96 310.5,48.74 311,48.55 311.5,48.37 312,48.22 312.5,48.08 313,47.96 313.5,47.85 314,47.76 314.5,47.68 315,47.6 315.5,47.54 316,47.48 316.5,47.43 317,47.38 317.5,47.34 318,47.31 318.5,47.27 319,47.25 319.5,47.22 320,47.19 320.5,47.17 321,47.15 321.5,47.13 322,47.12 322.5,47.1 323,47.08 323.5,47.07 324,47.06 324.5,47.04 325,47.03 325.5,47.02 326,47.01 326.5,47 327,46.99 327.5,46.98 328,46.97 328.5,46.96 329,46.95 329.5,46.94 330,46.93 330.5,46.92 331,46.92 331.5,46.91 332,46.9 332.5,46.9 333,46.89 333.5,46.88 334,46.88 334.5,46.87 335,46.86 335.5,46.86 336,46.85 336.5,46.85 337,46.84 337.5,46.84 338,46.83 338.5,46.83 339,46.82 339.5,46.82 340,46.82 340.5,46.81 341,46.81 341.5,46.8 342,46.8 342.5,46.8 343,46.79 343.5,46.79 344,46.79 344.5,46.78 345,46.78 345.5,46.78 346,46.77 346.5,46.77 347,46.77 347.5,46.76 348,46.76 348.5,46.76 349,46.76 349.5,46.75 350,46.75 350.5,46.75" fill="none" stroke="#95d68f" stroke-width="1.25" stroke-linejoin="round" stroke-linecap="round" />
<polyline points="270,46.07 270.5,46.04 271,46.01 271.5,45.98 272,45.95 272.5,45.9 273,45.86 273.5,45.8 274,45.73 274.5,45.65 275,45.56 275.5,45.44 276,45.3 276.5,45.13 277,44.93 277.5,44.68 278,44.38 278.5,44.02 279,43.59 279.5,43.09 280,42.5 280.5,41.82 281,41.03 281.5,40.13 282,39.12 282.5,37.99 283,36.73 283.5,35.36 284,33.88 284.5,32.3 285,30.63 285.5,28.9 286,27.13 286.5,25.34 287,23.57 287.5,21.85 288,20.22 288.5,18.72 289,17.37 289.5,16.22 290,15.28 290.5,14.6 291,14.18 291.5,14.04 292,14.18 292.5,14.6 293,15.28 293.5,16.22 294,17.37 294.5,18.72 295,20.22 295.5,21.85 296,23.57 296.5,25.34 297,27.13 297.5,28.9 298,30.63 298.5,32.3 299,33.88 299.5,35.36 300,36.73 300.5,37.99 301,39.12 301.5,40.13 302,41.03 302.5,41.82 303,42.5 303.5,43.09 304,43.59 304.5,44.02 305,44.38 305.5,44.68 306,44.93 306.5,45.13 307,45.3 307.5,45.44 308,45.56 308.5,45.65 309,45.73 309.5,45.8 310,45.86 310.5,45.9 311,45.95 311.5,45.98 312,46.01 312.5,46.04 313,46.07 313.5,46.09 314,46.11 314.5,46.13 315,46.15 315.5,46.17 316,46.18 316.5,46.2 317,46.21 317.5,46.22 318,46.24 318.5,46.25 319,46.26 319.5,46.27 320,46.28 320.5,46.29 321,46.3 321.5,46.31 322,46.32 322.5,46.33 323,46.34 323.5,46.34 324,46.35 324.5,46.36 325,46.36 325.5,46.37 326,46.38 326.5,46.38 327,46.39 327.5,46.39 328,46.4 328.5,46.41 329,46.41 329.5,46.41 330,46.42 330.5,46.42 331,46.43 331.5,46.43 332,46.44 332.5,46.44 333,46.44 333.5,46.45 334,46.45 334.5,46.45 335,46.46 335.5,46.46 336,46.46 336.5,46.47 337,46.47 337.5,46.47 338,46.47 338.5,46.48 339,46.48 339.5,46.48 340,46.48 340.5,46.49 341,46.49 341.5,46.49 342,46.49 342.5,46.49 343,46.5 343.5,46.5 344,46.5 344.5,46.5 345,46.5 345.5,46.51 346,46.51 346.5,46.51 347,46.51 347.5,46.51 348,46.51 348.5,46.52 349,46.52 349.5,46.52 350,46.52 350.5,46.52" fill="none" stroke="#eea24a" stroke-width="1.2" stroke-linejoin="round" stroke-linecap="round" />
<polyline points="270,46.07 270.5,46.05 271,46.02 271.5,45.99 272,45.95 272.5,45.91 273,45.86 273.5,45.81 274,45.74 274.5,45.67 275,45.57 275.5,45.46 276,45.33 276.5,45.16 277,44.97 277.5,44.73 278,44.45 278.5,44.11 279,43.71 279.5,43.25 280,42.7 280.5,42.07 281,41.34 281.5,40.52 282,39.58 282.5,38.54 283,37.39 283.5,36.13 284,34.76 284.5,33.3 285,31.75 285.5,30.14 286,28.48 286.5,26.79 287,25.1 287.5,23.45 288,21.85 288.5,20.35 289,18.98 289.5,17.76 290,16.74 290.5,15.92 291,15.34 291.5,15 292,14.93 292.5,15.11 293,15.54 293.5,16.22 294,17.12 294.5,18.23 295,19.51 295.5,20.94 296,22.48 296.5,24.1 297,25.77 297.5,27.46 298,29.15 298.5,30.79 299,32.38 299.5,33.9 300,35.32 300.5,36.65 301,37.86 301.5,38.97 302,39.97 302.5,40.86 303,41.65 303.5,42.33 304,42.93 304.5,43.44 305,43.88 305.5,44.25 306,44.57 306.5,44.83 307,45.05 307.5,45.23 308,45.38 308.5,45.51 309,45.61 309.5,45.7 310,45.77 310.5,45.83 311,45.88 311.5,45.93 312,45.97 312.5,46 313,46.03 313.5,46.06 314,46.08 314.5,46.1 315,46.12 315.5,46.14 316,46.16 316.5,46.17 317,46.19 317.5,46.2 318,46.22 318.5,46.23 319,46.24 319.5,46.25 320,46.27 320.5,46.28 321,46.29 321.5,46.3 322,46.31 322.5,46.31 323,46.32 323.5,46.33 324,46.34 324.5,46.35 325,46.35 325.5,46.36 326,46.37 326.5,46.37 327,46.38 327.5,46.38 328,46.39 328.5,46.4 329,46.4 329.5,46.41 330,46.41 330.5,46.42 331,46.42 331.5,46.42 332,46.43 332.5,46.43 333,46.44 333.5,46.44 334,46.44 334.5,46.45 335,46.45 335.5,46.45 336,46.46 336.5,46.46 337,46.46 337.5,46.47 338,46.47 338.5,46.47 339,46.47 339.5,46.48 340,46.48 340.5,46.48 341,46.48 341.5,46.49 342,46.49 342.5,46.49 343,46.49 343.5,46.49 344,46.5 344.5,46.5 345,46.5 345.5,46.5 346,46.5 346.5,46.51 347,46.51 347.5,46.51 348,46.51 348.5,46.51 349,46.51 349.5,46.51 350,46.52 350.5,46.52" fill="none" stroke="#9a9a9a" stroke-width="1.2" stroke-linejoin="round" stroke-linecap="round" />
<polyline points="270,46 270.5,45.97 271,45.94 271.5,45.9 272,45.85 272.5,45.8 273,45.73 273.5,45.65 274,45.56 274.5,45.45 275,45.32 275.5,45.15 276,44.95 276.5,44.71 277,44.42 277.5,44.07 278,43.65 278.5,43.16 279,42.57 279.5,41.89 280,41.11 280.5,40.2 281,39.18 281.5,38.03 282,36.75 282.5,35.34 283,33.81 283.5,32.17 284,30.43 284.5,28.62 285,26.75 285.5,24.86 286,22.98 286.5,21.14 287,19.39 287.5,17.75 288,16.28 288.5,15.01 289,13.96 289.5,13.18 290,12.67 290.5,12.46 291,12.55 291.5,12.94 292,13.62 292.5,14.56 293,15.75 293.5,17.14 294,18.72 294.5,20.43 295,22.24 295.5,24.11 296,26 296.5,27.88 297,29.72 297.5,31.49 298,33.17 298.5,34.74 299,36.2 299.5,37.53 300,38.73 300.5,39.81 301,40.76 301.5,41.59 302,42.31 302.5,42.94 303,43.46 303.5,43.91 304,44.29 304.5,44.6 305,44.86 305.5,45.08 306,45.25 306.5,45.4 307,45.52 307.5,45.62 308,45.7 308.5,45.77 309,45.83 309.5,45.88 310,45.92 310.5,45.96 311,45.99 311.5,46.02 312,46.05 312.5,46.07 313,46.09 313.5,46.11 314,46.13 314.5,46.15 315,46.17 315.5,46.18 316,46.2 316.5,46.21 317,46.22 317.5,46.24 318,46.25 318.5,46.26 319,46.27 319.5,46.28 320,46.29 320.5,46.3 321,46.31 321.5,46.32 322,46.33 322.5,46.33 323,46.34 323.5,46.35 324,46.36 324.5,46.36 325,46.37 325.5,46.38 326,46.38 326.5,46.39 327,46.39 327.5,46.4 328,46.4 328.5,46.41 329,46.41 329.5,46.42 330,46.42 330.5,46.43 331,46.43 331.5,46.43 332,46.44 332.5,46.44 333,46.45 333.5,46.45 334,46.45 334.5,46.46 335,46.46 335.5,46.46 336,46.46 336.5,46.47 337,46.47 337.5,46.47 338,46.48 338.5,46.48 339,46.48 339.5,46.48 340,46.48 340.5,46.49 341,46.49 341.5,46.49 342,46.49 342.5,46.5 343,46.5 343.5,46.5 344,46.5 344.5,46.5 345,46.5 345.5,46.51 346,46.51 346.5,46.51 347,46.51 347.5,46.51 348,46.51 348.5,46.52 349,46.52 349.5,46.52 350,46.52 350.5,46.52" fill="none" stroke="#6272e0" stroke-width="1.2" stroke-linejoin="round" stroke-linecap="round" />
<line x1="323.8" y1="11.8" x2="331.2" y2="11.8" stroke="#95d68f" stroke-width="0.9" />
<text x="332.6" y="12.9" font-size="3.2" text-anchor="start" font-weight="bold" fill="#222" stroke="#222" stroke-width="0.1" >X1</text>
<line x1="323.8" y1="16.3" x2="331.2" y2="16.3" stroke="#eea24a" stroke-width="0.9" />
<text x="332.6" y="17.4" font-size="3.2" text-anchor="start" font-weight="bold" fill="#222" stroke="#222" stroke-width="0.1" >X2</text>
<line x1="323.8" y1="20.8" x2="331.2" y2="20.8" stroke="#5a6de0" stroke-width="0.9" />
<text x="332.6" y="21.9" font-size="3.2" text-anchor="start" font-weight="bold" fill="#222" stroke="#222" stroke-width="0.1" >X3</text>
<line x1="323.8" y1="25.3" x2="331.2" y2="25.3" stroke="#9a9a9a" stroke-width="0.9" />
<text x="332.6" y="26.4" font-size="3.2" text-anchor="start" font-weight="bold" fill="#222" stroke="#222" stroke-width="0.1" >Volume</text>
<rect x="52.7" y="88" width="74.4" height="61.2" fill="none" stroke="#9c9c9c" stroke-width="0.7"/>
<text x="51.2" y="88.65" font-size="3.02" text-anchor="end" font-weight="normal" fill="#383838" stroke="#383838" stroke-width="0.09" >3900</text>
<text x="51.2" y="96.96" font-size="3.02" text-anchor="end" font-weight="normal" fill="#383838" stroke="#383838" stroke-width="0.09" >3850</text>
<text x="51.2" y="105.28" font-size="3.02" text-anchor="end" font-weight="normal" fill="#383838" stroke="#383838" stroke-width="0.09" >3800</text>
<text x="51.2" y="113.59" font-size="3.02" text-anchor="end" font-weight="normal" fill="#383838" stroke="#383838" stroke-width="0.09" >3750</text>
<text x="51.2" y="121.91" font-size="3.02" text-anchor="end" font-weight="normal" fill="#383838" stroke="#383838" stroke-width="0.09" >3700</text>
<text x="51.2" y="130.23" font-size="3.02" text-anchor="end" font-weight="normal" fill="#383838" stroke="#383838" stroke-width="0.09" >3650</text>
<text x="51.2" y="138.54" font-size="3.02" text-anchor="end" font-weight="normal" fill="#383838" stroke="#383838" stroke-width="0.09" >3600</text>
<text x="51.2" y="146.86" font-size="3.02" text-anchor="end" font-weight="normal" fill="#383838" stroke="#383838" stroke-width="0.09" >3550</text>
<line x1="52.7" y1="145.81" x2="53.7" y2="145.81" stroke="#777" stroke-width="0.4" />
<line x1="52.7" y1="137.49" x2="53.7" y2="137.49" stroke="#777" stroke-width="0.4" />
<line x1="52.7" y1="129.18" x2="53.7" y2="129.18" stroke="#777" stroke-width="0.4" />
<line x1="52.7" y1="120.86" x2="53.7" y2="120.86" stroke="#777" stroke-width="0.4" />
<line x1="52.7" y1="112.54" x2="53.7" y2="112.54" stroke="#777" stroke-width="0.4" />
<line x1="52.7" y1="104.23" x2="53.7" y2="104.23" stroke="#777" stroke-width="0.4" />
<line x1="52.7" y1="95.91" x2="53.7" y2="95.91" stroke="#777" stroke-width="0.4" />
<line x1="52.7" y1="87.6" x2="53.7" y2="87.6" stroke="#777" stroke-width="0.4" />
<text x="56.3" y="153.95" font-size="3.02" text-anchor="middle" font-weight="normal" fill="#383838" stroke="#383838" stroke-width="0.09" >120</text>
<text x="67.38" y="153.95" font-size="3.02" text-anchor="middle" font-weight="normal" fill="#383838" stroke="#383838" stroke-width="0.09" >150</text>
<text x="78.46" y="153.95" font-size="3.02" text-anchor="middle" font-weight="normal" fill="#383838" stroke="#383838" stroke-width="0.09" >180</text>
<text x="89.55" y="153.95" font-size="3.02" text-anchor="middle" font-weight="normal" fill="#383838" stroke="#383838" stroke-width="0.09" >210</text>
<text x="100.63" y="153.95" font-size="3.02" text-anchor="middle" font-weight="normal" fill="#383838" stroke="#383838" stroke-width="0.09" >240</text>
<text x="111.71" y="153.95" font-size="3.02" text-anchor="middle" font-weight="normal" fill="#383838" stroke="#383838" stroke-width="0.09" >270</text>
<text x="122.79" y="153.95" font-size="3.02" text-anchor="middle" font-weight="normal" fill="#383838" stroke="#383838" stroke-width="0.09" >300</text>
<line x1="56.3" y1="149.2" x2="56.3" y2="148.2" stroke="#777" stroke-width="0.4" />
<line x1="67.38" y1="149.2" x2="67.38" y2="148.2" stroke="#777" stroke-width="0.4" />
<line x1="78.46" y1="149.2" x2="78.46" y2="148.2" stroke="#777" stroke-width="0.4" />
<line x1="89.55" y1="149.2" x2="89.55" y2="148.2" stroke="#777" stroke-width="0.4" />
<line x1="100.63" y1="149.2" x2="100.63" y2="148.2" stroke="#777" stroke-width="0.4" />
<line x1="111.71" y1="149.2" x2="111.71" y2="148.2" stroke="#777" stroke-width="0.4" />
<line x1="122.79" y1="149.2" x2="122.79" y2="148.2" stroke="#777" stroke-width="0.4" />
<text x="90.2" y="159.4" font-size="3.9" text-anchor="middle" font-weight="bold" fill="#222" stroke="#222" stroke-width="0.12" ><tspan font-style="italic">T</tspan>, K</text>
<text x="41.8" y="118.6" font-size="4.5" text-anchor="middle" font-weight="normal" fill="#333" stroke="#333" stroke-width="0.14" transform="rotate(-90 41.8 118.6)" >Unit cell volume, Å<tspan font-size="2.8" dy="-1.4">3</tspan></text>
<polyline points="56.1,144.8 80.6,137.6" fill="none" stroke="#5a5a5a" stroke-width="0.55" stroke-linejoin="round" stroke-linecap="round" />
<g>
<rect x="55.35" y="144.05" width="1.5" height="1.5" fill="#5a5a5a" transform="rotate(45 56.1 144.8)"/>
<rect x="58.85" y="143.02" width="1.5" height="1.5" fill="#5a5a5a" transform="rotate(45 59.6 143.77)"/>
<rect x="62.35" y="141.99" width="1.5" height="1.5" fill="#5a5a5a" transform="rotate(45 63.1 142.74)"/>
<rect x="65.85" y="140.96" width="1.5" height="1.5" fill="#5a5a5a" transform="rotate(45 66.6 141.71)"/>
<rect x="69.35" y="139.94" width="1.5" height="1.5" fill="#5a5a5a" transform="rotate(45 70.1 140.69)"/>
<rect x="72.85" y="138.91" width="1.5" height="1.5" fill="#5a5a5a" transform="rotate(45 73.6 139.66)"/>
<rect x="76.35" y="137.88" width="1.5" height="1.5" fill="#5a5a5a" transform="rotate(45 77.1 138.63)"/>
<rect x="79.85" y="136.85" width="1.5" height="1.5" fill="#5a5a5a" transform="rotate(45 80.6 137.6)"/>
</g>
<polyline points="80.6,137.4 86,134.5 92,131.2 97.6,126.1" fill="none" stroke="#6a6a6a" stroke-width="0.9" stroke-linejoin="round" stroke-linecap="round" />
<polyline points="82.5,137.2 88,134.6 93.5,131.6 96.5,129.5" fill="none" stroke="#777" stroke-width="0.6" stroke-linejoin="round" stroke-linecap="round" />
<circle cx="84" cy="135.5" r="0.6" fill="#666" stroke="none" stroke-width="0.3"/>
<circle cx="86.75" cy="133.88" r="0.6" fill="#666" stroke="none" stroke-width="0.3"/>
<circle cx="89.5" cy="132.25" r="0.6" fill="#666" stroke="none" stroke-width="0.3"/>
<circle cx="92.25" cy="130.62" r="0.6" fill="#666" stroke="none" stroke-width="0.3"/>
<circle cx="95" cy="129" r="0.6" fill="#666" stroke="none" stroke-width="0.3"/>
<line x1="92.8" y1="130" x2="92.8" y2="107.2" stroke="#8a8a8a" stroke-width="0.5" />
<line x1="98.1" y1="126.3" x2="98.1" y2="105.8" stroke="#8a8a8a" stroke-width="0.5" />
<circle cx="98.1" cy="121.4" r="0.6" fill="#5a5a5a" stroke="none" stroke-width="0.3"/>
<polyline points="93.2,107.2 107.3,101.3" fill="none" stroke="#6a6a6a" stroke-width="0.9" stroke-linejoin="round" stroke-linecap="round" />
<polyline points="95,105.6 106,101.6" fill="none" stroke="#777" stroke-width="0.6" stroke-linejoin="round" stroke-linecap="round" />
<polyline points="93.2,107.2 123.7,92.8" fill="none" stroke="#5a5a5a" stroke-width="0.55" stroke-linejoin="round" stroke-linecap="round" />
<rect x="104.25" y="100.85" width="1.5" height="1.5" fill="#5a5a5a" transform="rotate(45 105 101.6)"/>
<rect x="107.37" y="99.38" width="1.5" height="1.5" fill="#5a5a5a" transform="rotate(45 108.12 100.13)"/>
<rect x="110.48" y="97.92" width="1.5" height="1.5" fill="#5a5a5a" transform="rotate(45 111.23 98.67)"/>
<rect x="113.6" y="96.45" width="1.5" height="1.5" fill="#5a5a5a" transform="rotate(45 114.35 97.2)"/>
<rect x="116.72" y="94.98" width="1.5" height="1.5" fill="#5a5a5a" transform="rotate(45 117.47 95.73)"/>
<rect x="119.83" y="93.52" width="1.5" height="1.5" fill="#5a5a5a" transform="rotate(45 120.58 94.27)"/>
<rect x="122.95" y="92.05" width="1.5" height="1.5" fill="#5a5a5a" transform="rotate(45 123.7 92.8)"/>
<circle cx="95" cy="106" r="0.6" fill="#666" stroke="none" stroke-width="0.3"/>
<circle cx="97.5" cy="104.95" r="0.6" fill="#666" stroke="none" stroke-width="0.3"/>
<circle cx="100" cy="103.9" r="0.6" fill="#666" stroke="none" stroke-width="0.3"/>
<circle cx="102.5" cy="102.85" r="0.6" fill="#666" stroke="none" stroke-width="0.3"/>
<circle cx="105" cy="101.8" r="0.6" fill="#666" stroke="none" stroke-width="0.3"/>
<path d="M89.2,107.6 Q90,104.6 94,103.3" fill="none" stroke="#555" stroke-width="0.5" stroke-linecap="round" stroke-linejoin="round" />
<path d="M89.0,108.0 l0.1,-1.5 M89.0,108.0 l1.2,-0.7" fill="none" stroke="#555" stroke-width="0.45" stroke-linecap="round" stroke-linejoin="round" />
<path d="M97.1,132.0 Q100.3,130.5 100.8,127.2" fill="none" stroke="#555" stroke-width="0.5" stroke-linecap="round" stroke-linejoin="round" />
<path d="M100.9,126.8 l-1.0,1.0 M100.9,126.8 l0.4,1.4" fill="none" stroke="#555" stroke-width="0.45" stroke-linecap="round" stroke-linejoin="round" />
<rect x="161.4" y="88" width="76.7" height="62.1" fill="none" stroke="#9c9c9c" stroke-width="0.7"/>
<text x="159.6" y="91.65" font-size="3.02" text-anchor="end" font-weight="normal" fill="#383838" stroke="#383838" stroke-width="0.09" >20.8</text>
<text x="159.6" y="99.45" font-size="3.02" text-anchor="end" font-weight="normal" fill="#383838" stroke="#383838" stroke-width="0.09" >20.6</text>
<text x="159.6" y="107.25" font-size="3.02" text-anchor="end" font-weight="normal" fill="#383838" stroke="#383838" stroke-width="0.09" >20.4</text>
<text x="159.6" y="115.05" font-size="3.02" text-anchor="end" font-weight="normal" fill="#383838" stroke="#383838" stroke-width="0.09" >20.2</text>
<text x="159.6" y="123.55" font-size="3.02" text-anchor="end" font-weight="normal" fill="#383838" stroke="#383838" stroke-width="0.09" >16.0</text>
<text x="159.6" y="131.45" font-size="3.02" text-anchor="end" font-weight="normal" fill="#383838" stroke="#383838" stroke-width="0.09" >15.8</text>
<text x="159.6" y="139.35" font-size="3.02" text-anchor="end" font-weight="normal" fill="#383838" stroke="#383838" stroke-width="0.09" >15.6</text>
<text x="159.6" y="147.35" font-size="3.02" text-anchor="end" font-weight="normal" fill="#383838" stroke="#383838" stroke-width="0.09" >15.4</text>
<line x1="161.4" y1="90.6" x2="162.4" y2="90.6" stroke="#777" stroke-width="0.4" />
<line x1="161.4" y1="98.4" x2="162.4" y2="98.4" stroke="#777" stroke-width="0.4" />
<line x1="161.4" y1="106.2" x2="162.4" y2="106.2" stroke="#777" stroke-width="0.4" />
<line x1="161.4" y1="114" x2="162.4" y2="114" stroke="#777" stroke-width="0.4" />
<line x1="161.4" y1="122.5" x2="162.4" y2="122.5" stroke="#777" stroke-width="0.4" />
<line x1="161.4" y1="130.4" x2="162.4" y2="130.4" stroke="#777" stroke-width="0.4" />
<line x1="161.4" y1="138.3" x2="162.4" y2="138.3" stroke="#777" stroke-width="0.4" />
<line x1="161.4" y1="146.3" x2="162.4" y2="146.3" stroke="#777" stroke-width="0.4" />
<text x="165.4" y="154.15" font-size="3.02" text-anchor="middle" font-weight="normal" fill="#383838" stroke="#383838" stroke-width="0.09" >120</text>
<text x="176.6" y="154.15" font-size="3.02" text-anchor="middle" font-weight="normal" fill="#383838" stroke="#383838" stroke-width="0.09" >150</text>
<text x="187.8" y="154.15" font-size="3.02" text-anchor="middle" font-weight="normal" fill="#383838" stroke="#383838" stroke-width="0.09" >180</text>
<text x="199" y="154.15" font-size="3.02" text-anchor="middle" font-weight="normal" fill="#383838" stroke="#383838" stroke-width="0.09" >210</text>
<text x="210.2" y="154.15" font-size="3.02" text-anchor="middle" font-weight="normal" fill="#383838" stroke="#383838" stroke-width="0.09" >240</text>
<text x="221.4" y="154.15" font-size="3.02" text-anchor="middle" font-weight="normal" fill="#383838" stroke="#383838" stroke-width="0.09" >270</text>
<text x="232.59" y="154.15" font-size="3.02" text-anchor="middle" font-weight="normal" fill="#383838" stroke="#383838" stroke-width="0.09" >300</text>
<line x1="165.4" y1="150.1" x2="165.4" y2="149.1" stroke="#777" stroke-width="0.4" />
<line x1="176.6" y1="150.1" x2="176.6" y2="149.1" stroke="#777" stroke-width="0.4" />
<line x1="187.8" y1="150.1" x2="187.8" y2="149.1" stroke="#777" stroke-width="0.4" />
<line x1="199" y1="150.1" x2="199" y2="149.1" stroke="#777" stroke-width="0.4" />
<line x1="210.2" y1="150.1" x2="210.2" y2="149.1" stroke="#777" stroke-width="0.4" />
<line x1="221.4" y1="150.1" x2="221.4" y2="149.1" stroke="#777" stroke-width="0.4" />
<line x1="232.59" y1="150.1" x2="232.59" y2="149.1" stroke="#777" stroke-width="0.4" />
<text x="199.3" y="158.5" font-size="3.9" text-anchor="middle" font-weight="bold" fill="#222" stroke="#222" stroke-width="0.12" ><tspan font-style="italic">T</tspan>, K</text>
<text x="152.4" y="119.2" font-size="4.5" text-anchor="middle" font-weight="normal" fill="#333" stroke="#333" stroke-width="0.14" transform="rotate(-90 152.4 119.2)" >Crystallographic axis, Å</text>
<polyline points="165.4,96.5 185,95.8 192,95.3 195,94.6 197.2,93.9 199,94.4 201.2,92.6 208.3,92.4" fill="none" stroke="#e27474" stroke-width="0.9" stroke-linejoin="round" stroke-linecap="round" />
<circle cx="165.4" cy="96.5" r="1" fill="#e27474" stroke="none" stroke-width="0.3"/>
<circle cx="169.56" cy="96.4" r="1" fill="#e27474" stroke="none" stroke-width="0.3"/>
<circle cx="173.71" cy="96.3" r="1" fill="#e27474" stroke="none" stroke-width="0.3"/>
<circle cx="177.87" cy="96.2" r="1" fill="#e27474" stroke="none" stroke-width="0.3"/>
<circle cx="182.03" cy="96.1" r="1" fill="#e27474" stroke="none" stroke-width="0.3"/>
<circle cx="186.19" cy="96" r="1" fill="#e27474" stroke="none" stroke-width="0.3"/>
<circle cx="190.34" cy="95.9" r="1" fill="#e27474" stroke="none" stroke-width="0.3"/>
<circle cx="194.5" cy="95.8" r="1" fill="#e27474" stroke="none" stroke-width="0.3"/>
<polyline points="192,95.4 195,94.6 197.2,93.9 199,94.4 201.2,92.6 208.3,92.4" fill="none" stroke="#e27474" stroke-width="1.7" stroke-linejoin="round" stroke-linecap="round" />
<line x1="202.5" y1="92.5" x2="202.5" y2="116.7" stroke="#e27474" stroke-width="0.8" />
<line x1="208.3" y1="92.4" x2="208.3" y2="114.2" stroke="#e27474" stroke-width="0.8" />
<circle cx="202.5" cy="98.8" r="0.75" fill="#e27474" stroke="none" stroke-width="0.3"/>
<circle cx="208.3" cy="98.8" r="0.75" fill="#e27474" stroke="none" stroke-width="0.3"/>
<polyline points="202.4,116.7 208,116.4 214.1,116 234.7,113" fill="none" stroke="#e27474" stroke-width="0.9" stroke-linejoin="round" stroke-linecap="round" />
<polyline points="202.4,116.5 210,115.8" fill="none" stroke="#e27474" stroke-width="1.4" stroke-linejoin="round" stroke-linecap="round" />
<circle cx="214.1" cy="116" r="1" fill="#e27474" stroke="none" stroke-width="0.3"/>
<circle cx="218.22" cy="115.4" r="1" fill="#e27474" stroke="none" stroke-width="0.3"/>
<circle cx="222.34" cy="114.8" r="1" fill="#e27474" stroke="none" stroke-width="0.3"/>
<circle cx="226.46" cy="114.2" r="1" fill="#e27474" stroke="none" stroke-width="0.3"/>
<circle cx="230.58" cy="113.6" r="1" fill="#e27474" stroke="none" stroke-width="0.3"/>
<circle cx="234.7" cy="113" r="1" fill="#e27474" stroke="none" stroke-width="0.3"/>
<line x1="201.2" y1="103" x2="201.2" y2="109.2" stroke="#e27474" stroke-width="0.5" />
<circle cx="201.2" cy="104.6" r="0.7" fill="#e27474" stroke="none" stroke-width="0.3"/>
<line x1="210.9" y1="103.4" x2="210.9" y2="110.9" stroke="#e27474" stroke-width="0.5" />
<circle cx="210.9" cy="108.4" r="0.7" fill="#e27474" stroke="none" stroke-width="0.3"/>
<circle cx="209.6" cy="113.4" r="0.6" fill="#e27474" stroke="none" stroke-width="0.3"/>
<polyline points="165.4,148 191,146.5 205.4,144.5 208.7,141.2" fill="none" stroke="#f0ac48" stroke-width="0.9" stroke-linejoin="round" stroke-linecap="round" />
<polyline points="191,146.5 205.4,144.5 208.5,142" fill="none" stroke="#f0ac48" stroke-width="1.5" stroke-linejoin="round" stroke-linecap="round" />
<circle cx="191" cy="146.5" r="0.8" fill="#f0ac48" stroke="none" stroke-width="0.3"/>
<circle cx="193.88" cy="146.1" r="0.8" fill="#f0ac48" stroke="none" stroke-width="0.3"/>
<circle cx="196.76" cy="145.7" r="0.8" fill="#f0ac48" stroke="none" stroke-width="0.3"/>
<circle cx="199.64" cy="145.3" r="0.8" fill="#f0ac48" stroke="none" stroke-width="0.3"/>
<circle cx="202.52" cy="144.9" r="0.8" fill="#f0ac48" stroke="none" stroke-width="0.3"/>
<circle cx="205.4" cy="144.5" r="0.8" fill="#f0ac48" stroke="none" stroke-width="0.3"/>
<line x1="202.4" y1="144" x2="202.4" y2="128.4" stroke="#f0ac48" stroke-width="0.75" />
<line x1="208.3" y1="143.7" x2="208.3" y2="128" stroke="#f0ac48" stroke-width="0.75" />
<polyline points="203.5,128.4 234.7,126.6" fill="none" stroke="#f0ac48" stroke-width="0.9" stroke-linejoin="round" stroke-linecap="round" />
<circle cx="209" cy="128" r="1" fill="#f0ac48" stroke="none" stroke-width="0.3"/>
<circle cx="213.28" cy="127.77" r="1" fill="#f0ac48" stroke="none" stroke-width="0.3"/>
<circle cx="217.57" cy="127.53" r="1" fill="#f0ac48" stroke="none" stroke-width="0.3"/>
<circle cx="221.85" cy="127.3" r="1" fill="#f0ac48" stroke="none" stroke-width="0.3"/>
<circle cx="226.13" cy="127.07" r="1" fill="#f0ac48" stroke="none" stroke-width="0.3"/>
<circle cx="230.42" cy="126.83" r="1" fill="#f0ac48" stroke="none" stroke-width="0.3"/>
<circle cx="234.7" cy="126.6" r="1" fill="#f0ac48" stroke="none" stroke-width="0.3"/>
<polyline points="203.5,128.4 212,127.8" fill="none" stroke="#f0ac48" stroke-width="1.5" stroke-linejoin="round" stroke-linecap="round" />
<polyline points="165.4,147.6 188.3,145.2 201.5,142.5 206.7,141.2 209,139" fill="none" stroke="#78b6ea" stroke-width="0.9" stroke-linejoin="round" stroke-linecap="round" />
<circle cx="165.4" cy="147.6" r="1" fill="#78b6ea" stroke="none" stroke-width="0.3"/>
<circle cx="169.98" cy="147.12" r="1" fill="#78b6ea" stroke="none" stroke-width="0.3"/>
<circle cx="174.56" cy="146.64" r="1" fill="#78b6ea" stroke="none" stroke-width="0.3"/>
<circle cx="179.14" cy="146.16" r="1" fill="#78b6ea" stroke="none" stroke-width="0.3"/>
<circle cx="183.72" cy="145.68" r="1" fill="#78b6ea" stroke="none" stroke-width="0.3"/>
<circle cx="188.3" cy="145.2" r="1" fill="#78b6ea" stroke="none" stroke-width="0.3"/>
<polyline points="188.3,145.2 201.5,142.5 206.7,141.2" fill="none" stroke="#78b6ea" stroke-width="1.3" stroke-linejoin="round" stroke-linecap="round" />
<line x1="202.2" y1="142.1" x2="202.2" y2="124.7" stroke="#78b6ea" stroke-width="0.7" />
<line x1="208" y1="141.2" x2="208" y2="124" stroke="#78b6ea" stroke-width="0.7" />
<polyline points="202.3,124.7 234.7,122" fill="none" stroke="#78b6ea" stroke-width="0.9" stroke-linejoin="round" stroke-linecap="round" />
<circle cx="208" cy="124.1" r="1" fill="#78b6ea" stroke="none" stroke-width="0.3"/>
<circle cx="212.45" cy="123.75" r="1" fill="#78b6ea" stroke="none" stroke-width="0.3"/>
<circle cx="216.9" cy="123.4" r="1" fill="#78b6ea" stroke="none" stroke-width="0.3"/>
<circle cx="221.35" cy="123.05" r="1" fill="#78b6ea" stroke="none" stroke-width="0.3"/>
<circle cx="225.8" cy="122.7" r="1" fill="#78b6ea" stroke="none" stroke-width="0.3"/>
<circle cx="230.25" cy="122.35" r="1" fill="#78b6ea" stroke="none" stroke-width="0.3"/>
<circle cx="234.7" cy="122" r="1" fill="#78b6ea" stroke="none" stroke-width="0.3"/>
<polyline points="202.3,124.7 212,123.8" fill="none" stroke="#78b6ea" stroke-width="1.5" stroke-linejoin="round" stroke-linecap="round" />
<path d="M200.4,127.8 Q201,123.6 203.5,122.3" fill="none" stroke="#78b6ea" stroke-width="0.5" stroke-linecap="round" stroke-linejoin="round" />
<path d="M208.4,146.2 Q210.8,144.5 210.8,140.0" fill="none" stroke="#78b6ea" stroke-width="0.5" stroke-linecap="round" stroke-linejoin="round" />
<line x1="170" y1="130.4" x2="176.6" y2="130.4" stroke="#f0ac48" stroke-width="1.1" />
<circle cx="173.3" cy="130.4" r="0.8" fill="#f0ac48" stroke="none" stroke-width="0.3"/>
<text x="177.9" y="131.5" font-size="3.1" text-anchor="start" font-weight="bold" fill="#222" stroke="#222" stroke-width="0.09" >a-axis</text>
<line x1="170" y1="134.55" x2="176.6" y2="134.55" stroke="#e27474" stroke-width="1.1" />
<circle cx="173.3" cy="134.55" r="0.8" fill="#e27474" stroke="none" stroke-width="0.3"/>
<text x="177.9" y="135.65" font-size="3.1" text-anchor="start" font-weight="bold" fill="#222" stroke="#222" stroke-width="0.09" >b-axis</text>
<line x1="170" y1="138.7" x2="176.6" y2="138.7" stroke="#78b6ea" stroke-width="1.1" />
<circle cx="173.3" cy="138.7" r="0.8" fill="#78b6ea" stroke="none" stroke-width="0.3"/>
<text x="177.9" y="139.8" font-size="3.1" text-anchor="start" font-weight="bold" fill="#222" stroke="#222" stroke-width="0.09" >c-axis</text>
<rect x="52.3" y="171" width="45.2" height="61.5" fill="#e9edf8" stroke="none" stroke-width="0.6"/>
<rect x="97.5" y="171" width="12.5" height="61.5" fill="#edf5ec" stroke="none" stroke-width="0.6"/>
<rect x="110" y="171" width="17.8" height="61.5" fill="#fcf3ee" stroke="none" stroke-width="0.6"/>
<rect x="52.3" y="171" width="75.5" height="61.5" fill="none" stroke="#9c9c9c" stroke-width="0.7"/>
<line x1="97.5" y1="172" x2="97.5" y2="232.5" stroke="#6fbf5c" stroke-width="0.95" stroke-dasharray="2.1,1.8"/>
<line x1="110" y1="172" x2="110" y2="232.5" stroke="#6fbf5c" stroke-width="0.95" stroke-dasharray="2.1,1.8"/>
<text x="97.5" y="166" font-size="3.2" text-anchor="middle" font-weight="bold" fill="#222" stroke="#222" stroke-width="0.1" >229 K</text>
<text x="111.2" y="166" font-size="3.2" text-anchor="middle" font-weight="bold" fill="#222" stroke="#222" stroke-width="0.1" >244 K</text>
<polygon points="96.4,169.2 98.6,169.2 97.5,167" fill="#7cc46a"/>
<polygon points="108.9,169.2 111.1,169.2 110,167" fill="#7cc46a"/>
<text x="50.6" y="172.25" font-size="3.02" text-anchor="end" font-weight="normal" fill="#383838" stroke="#383838" stroke-width="0.09" >20.8</text>
<text x="50.6" y="181.75" font-size="3.02" text-anchor="end" font-weight="normal" fill="#383838" stroke="#383838" stroke-width="0.09" >20.6</text>
<text x="50.6" y="191.35" font-size="3.02" text-anchor="end" font-weight="normal" fill="#383838" stroke="#383838" stroke-width="0.09" >20.4</text>
<text x="50.6" y="201.55" font-size="3.02" text-anchor="end" font-weight="normal" fill="#383838" stroke="#383838" stroke-width="0.09" >20.2</text>
<text x="50.6" y="211.45" font-size="3.02" text-anchor="end" font-weight="normal" fill="#383838" stroke="#383838" stroke-width="0.09" >16.0</text>
<text x="50.6" y="217.15" font-size="3.02" text-anchor="end" font-weight="normal" fill="#383838" stroke="#383838" stroke-width="0.09" >15.8</text>
<text x="50.6" y="223.75" font-size="3.02" text-anchor="end" font-weight="normal" fill="#383838" stroke="#383838" stroke-width="0.09" >15.6</text>
<text x="50.6" y="230.45" font-size="3.02" text-anchor="end" font-weight="normal" fill="#383838" stroke="#383838" stroke-width="0.09" >15.4</text>
<line x1="52.3" y1="171.2" x2="53.3" y2="171.2" stroke="#777" stroke-width="0.4" />
<line x1="52.3" y1="180.7" x2="53.3" y2="180.7" stroke="#777" stroke-width="0.4" />
<line x1="52.3" y1="190.3" x2="53.3" y2="190.3" stroke="#777" stroke-width="0.4" />
<line x1="52.3" y1="200.5" x2="53.3" y2="200.5" stroke="#777" stroke-width="0.4" />
<line x1="52.3" y1="210.4" x2="53.3" y2="210.4" stroke="#777" stroke-width="0.4" />
<line x1="52.3" y1="216.1" x2="53.3" y2="216.1" stroke="#777" stroke-width="0.4" />
<line x1="52.3" y1="222.7" x2="53.3" y2="222.7" stroke="#777" stroke-width="0.4" />
<line x1="52.3" y1="229.4" x2="53.3" y2="229.4" stroke="#777" stroke-width="0.4" />
<text x="130" y="179.45" font-size="3" text-anchor="start" font-weight="normal" fill="#383838" stroke="#383838" stroke-width="0.09" >2.15</text>
<line x1="127.8" y1="178.4" x2="126.8" y2="178.4" stroke="#777" stroke-width="0.4" />
<text x="130" y="191.05" font-size="3" text-anchor="start" font-weight="normal" fill="#383838" stroke="#383838" stroke-width="0.09" >2.10</text>
<line x1="127.8" y1="190" x2="126.8" y2="190" stroke="#777" stroke-width="0.4" />
<text x="130" y="202.85" font-size="3" text-anchor="start" font-weight="normal" fill="#383838" stroke="#383838" stroke-width="0.09" >2.05</text>
<line x1="127.8" y1="201.8" x2="126.8" y2="201.8" stroke="#777" stroke-width="0.4" />
<text x="130" y="214.05" font-size="3" text-anchor="start" font-weight="normal" fill="#383838" stroke="#383838" stroke-width="0.09" >2.00</text>
<line x1="127.8" y1="213" x2="126.8" y2="213" stroke="#777" stroke-width="0.4" />
<text x="130" y="225.65" font-size="3" text-anchor="start" font-weight="normal" fill="#383838" stroke="#383838" stroke-width="0.09" >1.95</text>
<line x1="127.8" y1="224.6" x2="126.8" y2="224.6" stroke="#777" stroke-width="0.4" />
<text x="56.4" y="237.05" font-size="3.02" text-anchor="middle" font-weight="normal" fill="#383838" stroke="#383838" stroke-width="0.09" >180</text>
<text x="72.9" y="237.05" font-size="3.02" text-anchor="middle" font-weight="normal" fill="#383838" stroke="#383838" stroke-width="0.09" >200</text>
<text x="89.4" y="237.05" font-size="3.02" text-anchor="middle" font-weight="normal" fill="#383838" stroke="#383838" stroke-width="0.09" >220</text>
<text x="105.9" y="237.05" font-size="3.02" text-anchor="middle" font-weight="normal" fill="#383838" stroke="#383838" stroke-width="0.09" >240</text>
<text x="122.4" y="237.05" font-size="3.02" text-anchor="middle" font-weight="normal" fill="#383838" stroke="#383838" stroke-width="0.09" >260</text>
<line x1="56.4" y1="232.5" x2="56.4" y2="231.5" stroke="#777" stroke-width="0.4" />
<line x1="72.9" y1="232.5" x2="72.9" y2="231.5" stroke="#777" stroke-width="0.4" />
<line x1="89.4" y1="232.5" x2="89.4" y2="231.5" stroke="#777" stroke-width="0.4" />
<line x1="105.9" y1="232.5" x2="105.9" y2="231.5" stroke="#777" stroke-width="0.4" />
<line x1="122.4" y1="232.5" x2="122.4" y2="231.5" stroke="#777" stroke-width="0.4" />
<text x="42.5" y="201.7" font-size="4.8" text-anchor="middle" font-weight="normal" fill="#333" stroke="#333" stroke-width="0.14" transform="rotate(-90 42.5 201.7)" >Crystallographic axis, Å</text>
<text x="141.1" y="201.7" font-size="5" text-anchor="middle" font-weight="normal" fill="#333" stroke="#333" stroke-width="0.15" transform="rotate(-90 141.1 201.7)" >Average Fe2–N bond, Å</text>
<text x="90.5" y="242.5" font-size="4.3" text-anchor="middle" font-weight="bold" fill="#222" stroke="#222" stroke-width="0.13" ><tspan font-style="italic">T</tspan>, K</text>
<text x="75.5" y="190" font-size="4.3" text-anchor="middle" font-weight="bold" fill="#222" stroke="#222" stroke-width="0.13" >LS state</text>
<text x="75.5" y="194.6" font-size="3.9" text-anchor="middle" font-weight="bold" fill="#2a2a2a" stroke="#2a2a2a" stroke-width="0.12" >(PTE)</text>
<text x="118.2" y="190" font-size="4.3" text-anchor="middle" font-weight="bold" fill="#222" stroke="#222" stroke-width="0.13" >HS state</text>
<text x="118.2" y="194.6" font-size="3.9" text-anchor="middle" font-weight="bold" fill="#2a2a2a" stroke="#2a2a2a" stroke-width="0.12" >(PTE)</text>
<text x="104" y="231.2" font-size="3.7" text-anchor="middle" font-weight="bold" fill="#1e1e1e" stroke="#1e1e1e" stroke-width="0.11" >ATE</text>
<line x1="57.6" y1="206" x2="64.4" y2="206" stroke="#f3c27e" stroke-width="1.4" />
<text x="65.5" y="207.05" font-size="3.1" text-anchor="start" font-weight="normal" fill="#333" stroke="#333" stroke-width="0.09" >a-axis</text>
<line x1="57.6" y1="209.8" x2="64.4" y2="209.8" stroke="#eea0a0" stroke-width="1.4" />
<text x="65.5" y="210.85" font-size="3.1" text-anchor="start" font-weight="normal" fill="#333" stroke="#333" stroke-width="0.09" >b-axis</text>
<line x1="57.6" y1="214.2" x2="64.4" y2="214.2" stroke="#a9d0f0" stroke-width="1.4" />
<text x="65.5" y="215.25" font-size="3.1" text-anchor="start" font-weight="normal" fill="#333" stroke="#333" stroke-width="0.09" >c-axis</text>
<line x1="57.6" y1="219" x2="64.4" y2="219" stroke="#c4c4c4" stroke-width="1.4" />
<text x="65.5" y="220.05" font-size="3.1" text-anchor="start" font-weight="normal" fill="#333" stroke="#333" stroke-width="0.09" >Avg Fe2–N</text>
<polyline points="55.8,224.8 80,223.8 95,222.2 98.5,220.5 100.2,214 100.5,205 100.8,190 101.6,180 103.2,175.8 110,175.6 123.8,175.4" fill="none" stroke="#9c9c9c" stroke-width="0.75" stroke-linejoin="round" stroke-linecap="round" />
<circle cx="55.8" cy="224.8" r="0.75" fill="#fff" stroke="#9c9c9c" stroke-width="0.45"/>
<circle cx="58.82" cy="224.6" r="0.75" fill="#fff" stroke="#9c9c9c" stroke-width="0.45"/>
<circle cx="61.83" cy="224.4" r="0.75" fill="#fff" stroke="#9c9c9c" stroke-width="0.45"/>
<circle cx="64.85" cy="224.2" r="0.75" fill="#fff" stroke="#9c9c9c" stroke-width="0.45"/>
<circle cx="67.86" cy="224" r="0.75" fill="#fff" stroke="#9c9c9c" stroke-width="0.45"/>
<circle cx="70.88" cy="223.8" r="0.75" fill="#fff" stroke="#9c9c9c" stroke-width="0.45"/>
<circle cx="73.89" cy="223.6" r="0.75" fill="#fff" stroke="#9c9c9c" stroke-width="0.45"/>
<circle cx="76.91" cy="223.4" r="0.75" fill="#fff" stroke="#9c9c9c" stroke-width="0.45"/>
<circle cx="79.92" cy="223.2" r="0.75" fill="#fff" stroke="#9c9c9c" stroke-width="0.45"/>
<circle cx="82.94" cy="223" r="0.75" fill="#fff" stroke="#9c9c9c" stroke-width="0.45"/>
<circle cx="85.95" cy="222.8" r="0.75" fill="#fff" stroke="#9c9c9c" stroke-width="0.45"/>
<circle cx="88.97" cy="222.6" r="0.75" fill="#fff" stroke="#9c9c9c" stroke-width="0.45"/>
<circle cx="91.98" cy="222.4" r="0.75" fill="#fff" stroke="#9c9c9c" stroke-width="0.45"/>
<circle cx="95" cy="222.2" r="0.75" fill="#fff" stroke="#9c9c9c" stroke-width="0.45"/>
<circle cx="104" cy="175.8" r="0.75" fill="#fff" stroke="#9c9c9c" stroke-width="0.45"/>
<circle cx="107.3" cy="175.73" r="0.75" fill="#fff" stroke="#9c9c9c" stroke-width="0.45"/>
<circle cx="110.6" cy="175.67" r="0.75" fill="#fff" stroke="#9c9c9c" stroke-width="0.45"/>
<circle cx="113.9" cy="175.6" r="0.75" fill="#fff" stroke="#9c9c9c" stroke-width="0.45"/>
<circle cx="117.2" cy="175.53" r="0.75" fill="#fff" stroke="#9c9c9c" stroke-width="0.45"/>
<circle cx="120.5" cy="175.47" r="0.75" fill="#fff" stroke="#9c9c9c" stroke-width="0.45"/>
<circle cx="123.8" cy="175.4" r="0.75" fill="#fff" stroke="#9c9c9c" stroke-width="0.45"/>
<polyline points="55.8,229.1 80,228.7 95,228 99,226.2 101,221 102.2,216.5 106.7,214.4 123.8,214" fill="none" stroke="#f2b04a" stroke-width="0.75" stroke-linejoin="round" stroke-linecap="round" />
<circle cx="60" cy="229" r="0.9" fill="#f2b04a" stroke="none" stroke-width="0.3"/>
<circle cx="63.5" cy="228.9" r="0.9" fill="#f2b04a" stroke="none" stroke-width="0.3"/>
<circle cx="67" cy="228.8" r="0.9" fill="#f2b04a" stroke="none" stroke-width="0.3"/>
<circle cx="70.5" cy="228.7" r="0.9" fill="#f2b04a" stroke="none" stroke-width="0.3"/>
<circle cx="74" cy="228.6" r="0.9" fill="#f2b04a" stroke="none" stroke-width="0.3"/>
<circle cx="77.5" cy="228.5" r="0.9" fill="#f2b04a" stroke="none" stroke-width="0.3"/>
<circle cx="81" cy="228.4" r="0.9" fill="#f2b04a" stroke="none" stroke-width="0.3"/>
<circle cx="84.5" cy="228.3" r="0.9" fill="#f2b04a" stroke="none" stroke-width="0.3"/>
<circle cx="88" cy="228.2" r="0.9" fill="#f2b04a" stroke="none" stroke-width="0.3"/>
<circle cx="91.5" cy="228.1" r="0.9" fill="#f2b04a" stroke="none" stroke-width="0.3"/>
<circle cx="95" cy="228" r="0.9" fill="#f2b04a" stroke="none" stroke-width="0.3"/>
<circle cx="106" cy="214.4" r="0.9" fill="#f2b04a" stroke="none" stroke-width="0.3"/>
<circle cx="109.56" cy="214.32" r="0.9" fill="#f2b04a" stroke="none" stroke-width="0.3"/>
<circle cx="113.12" cy="214.24" r="0.9" fill="#f2b04a" stroke="none" stroke-width="0.3"/>
<circle cx="116.68" cy="214.16" r="0.9" fill="#f2b04a" stroke="none" stroke-width="0.3"/>
<circle cx="120.24" cy="214.08" r="0.9" fill="#f2b04a" stroke="none" stroke-width="0.3"/>
<circle cx="123.8" cy="214" r="0.9" fill="#f2b04a" stroke="none" stroke-width="0.3"/>
<polyline points="55.8,228.5 80,227.8 95,226.4 98,224.5 100.5,218 102.1,214 106,212.5 123.8,212.2" fill="none" stroke="#78b8ec" stroke-width="0.75" stroke-linejoin="round" stroke-linecap="round" />
<circle cx="55.8" cy="228.5" r="0.9" fill="#78b8ec" stroke="none" stroke-width="0.3"/>
<circle cx="59.36" cy="228.31" r="0.9" fill="#78b8ec" stroke="none" stroke-width="0.3"/>
<circle cx="62.93" cy="228.12" r="0.9" fill="#78b8ec" stroke="none" stroke-width="0.3"/>
<circle cx="66.49" cy="227.93" r="0.9" fill="#78b8ec" stroke="none" stroke-width="0.3"/>
<circle cx="70.05" cy="227.74" r="0.9" fill="#78b8ec" stroke="none" stroke-width="0.3"/>
<circle cx="73.62" cy="227.55" r="0.9" fill="#78b8ec" stroke="none" stroke-width="0.3"/>
<circle cx="77.18" cy="227.35" r="0.9" fill="#78b8ec" stroke="none" stroke-width="0.3"/>
<circle cx="80.75" cy="227.16" r="0.9" fill="#78b8ec" stroke="none" stroke-width="0.3"/>
<circle cx="84.31" cy="226.97" r="0.9" fill="#78b8ec" stroke="none" stroke-width="0.3"/>
<circle cx="87.87" cy="226.78" r="0.9" fill="#78b8ec" stroke="none" stroke-width="0.3"/>
<circle cx="91.44" cy="226.59" r="0.9" fill="#78b8ec" stroke="none" stroke-width="0.3"/>
<circle cx="95" cy="226.4" r="0.9" fill="#78b8ec" stroke="none" stroke-width="0.3"/>
<circle cx="104" cy="212.8" r="0.9" fill="#78b8ec" stroke="none" stroke-width="0.3"/>
<circle cx="107.3" cy="212.7" r="0.9" fill="#78b8ec" stroke="none" stroke-width="0.3"/>
<circle cx="110.6" cy="212.6" r="0.9" fill="#78b8ec" stroke="none" stroke-width="0.3"/>
<circle cx="113.9" cy="212.5" r="0.9" fill="#78b8ec" stroke="none" stroke-width="0.3"/>
<circle cx="117.2" cy="212.4" r="0.9" fill="#78b8ec" stroke="none" stroke-width="0.3"/>
<circle cx="120.5" cy="212.3" r="0.9" fill="#78b8ec" stroke="none" stroke-width="0.3"/>
<circle cx="123.8" cy="212.2" r="0.9" fill="#78b8ec" stroke="none" stroke-width="0.3"/>
<polyline points="55.8,177.1 71.6,177.5 76,176.6 79.5,175.8 80.8,177.8 84,175 88.7,173.2 92,173 97.5,173 99.5,178 100.8,186 101.4,195 102,200.8 104,203.2 106,203.8 123.8,203.5" fill="none" stroke="#e47a7a" stroke-width="0.75" stroke-linejoin="round" stroke-linecap="round" />
<circle cx="55.8" cy="177.1" r="0.9" fill="#e47a7a" stroke="none" stroke-width="0.3"/>
<circle cx="59.27" cy="176.76" r="0.9" fill="#e47a7a" stroke="none" stroke-width="0.3"/>
<circle cx="62.75" cy="176.42" r="0.9" fill="#e47a7a" stroke="none" stroke-width="0.3"/>
<circle cx="66.22" cy="176.07" r="0.9" fill="#e47a7a" stroke="none" stroke-width="0.3"/>
<circle cx="69.7" cy="175.73" r="0.9" fill="#e47a7a" stroke="none" stroke-width="0.3"/>
<circle cx="73.17" cy="175.39" r="0.9" fill="#e47a7a" stroke="none" stroke-width="0.3"/>
<circle cx="76.65" cy="175.05" r="0.9" fill="#e47a7a" stroke="none" stroke-width="0.3"/>
<circle cx="80.12" cy="174.71" r="0.9" fill="#e47a7a" stroke="none" stroke-width="0.3"/>
<circle cx="83.6" cy="174.37" r="0.9" fill="#e47a7a" stroke="none" stroke-width="0.3"/>
<circle cx="87.08" cy="174.03" r="0.9" fill="#e47a7a" stroke="none" stroke-width="0.3"/>
<circle cx="90.55" cy="173.68" r="0.9" fill="#e47a7a" stroke="none" stroke-width="0.3"/>
<circle cx="94.02" cy="173.34" r="0.9" fill="#e47a7a" stroke="none" stroke-width="0.3"/>
<circle cx="97.5" cy="173" r="0.9" fill="#e47a7a" stroke="none" stroke-width="0.3"/>
<circle cx="105" cy="203.7" r="0.9" fill="#e47a7a" stroke="none" stroke-width="0.3"/>
<circle cx="108.76" cy="203.66" r="0.9" fill="#e47a7a" stroke="none" stroke-width="0.3"/>
<circle cx="112.52" cy="203.62" r="0.9" fill="#e47a7a" stroke="none" stroke-width="0.3"/>
<circle cx="116.28" cy="203.58" r="0.9" fill="#e47a7a" stroke="none" stroke-width="0.3"/>
<circle cx="120.04" cy="203.54" r="0.9" fill="#e47a7a" stroke="none" stroke-width="0.3"/>
<circle cx="123.8" cy="203.5" r="0.9" fill="#e47a7a" stroke="none" stroke-width="0.3"/>
<path d="M103.6,182.5 Q104.5,178 107.8,176.8" fill="none" stroke="#555" stroke-width="0.45" stroke-linecap="round" stroke-linejoin="round" />
<path d="M102.6,196.7 Q103.5,200 106.8,201.3" fill="none" stroke="#e47a7a" stroke-width="0.6" stroke-linecap="round" stroke-linejoin="round" />
<rect x="162.1" y="171.5" width="27.7" height="61.2" fill="#e9edf8" stroke="none" stroke-width="0.6"/>
<rect x="189.8" y="171.5" width="19.9" height="61.2" fill="#edf5ec" stroke="none" stroke-width="0.6"/>
<rect x="209.7" y="171.5" width="28" height="61.2" fill="#fcf3ee" stroke="none" stroke-width="0.6"/>
<rect x="162.1" y="171.5" width="75.6" height="61.2" fill="none" stroke="#9c9c9c" stroke-width="0.7"/>
<line x1="189.8" y1="172.5" x2="189.8" y2="232.7" stroke="#6fbf5c" stroke-width="0.95" stroke-dasharray="2.1,1.8"/>
<line x1="197.4" y1="172.5" x2="197.4" y2="232.7" stroke="#6fbf5c" stroke-width="0.95" stroke-dasharray="2.1,1.8"/>
<line x1="209.7" y1="172.5" x2="209.7" y2="232.7" stroke="#6fbf5c" stroke-width="0.95" stroke-dasharray="2.1,1.8"/>
<text x="188.6" y="166" font-size="3.2" text-anchor="middle" font-weight="bold" fill="#222" stroke="#222" stroke-width="0.1" >208 K</text>
<text x="198.6" y="166" font-size="3.2" text-anchor="middle" font-weight="bold" fill="#222" stroke="#222" stroke-width="0.1" >217 K</text>
<text x="211.4" y="166" font-size="3.2" text-anchor="middle" font-weight="bold" fill="#222" stroke="#222" stroke-width="0.1" >232 K</text>
<polygon points="188.7,169.2 190.9,169.2 189.8,167" fill="#7cc46a"/>
<polygon points="196.3,169.2 198.5,169.2 197.4,167" fill="#7cc46a"/>
<polygon points="208.6,169.2 210.8,169.2 209.7,167" fill="#7cc46a"/>
<text x="160.5" y="172.35" font-size="3.02" text-anchor="end" font-weight="normal" fill="#383838" stroke="#383838" stroke-width="0.09" >20.8</text>
<text x="160.5" y="182.05" font-size="3.02" text-anchor="end" font-weight="normal" fill="#383838" stroke="#383838" stroke-width="0.09" >20.6</text>
<text x="160.5" y="192.45" font-size="3.02" text-anchor="end" font-weight="normal" fill="#383838" stroke="#383838" stroke-width="0.09" >20.4</text>
<text x="160.5" y="202.55" font-size="3.02" text-anchor="end" font-weight="normal" fill="#383838" stroke="#383838" stroke-width="0.09" >20.2</text>
<text x="160.5" y="211.35" font-size="3.02" text-anchor="end" font-weight="normal" fill="#383838" stroke="#383838" stroke-width="0.09" >16.0</text>
<text x="160.5" y="217.05" font-size="3.02" text-anchor="end" font-weight="normal" fill="#383838" stroke="#383838" stroke-width="0.09" >15.8</text>
<text x="160.5" y="223.85" font-size="3.02" text-anchor="end" font-weight="normal" fill="#383838" stroke="#383838" stroke-width="0.09" >15.6</text>
<text x="160.5" y="230.75" font-size="3.02" text-anchor="end" font-weight="normal" fill="#383838" stroke="#383838" stroke-width="0.09" >15.4</text>
<line x1="162.1" y1="171.3" x2="163.1" y2="171.3" stroke="#777" stroke-width="0.4" />
<line x1="162.1" y1="181" x2="163.1" y2="181" stroke="#777" stroke-width="0.4" />
<line x1="162.1" y1="191.4" x2="163.1" y2="191.4" stroke="#777" stroke-width="0.4" />
<line x1="162.1" y1="201.5" x2="163.1" y2="201.5" stroke="#777" stroke-width="0.4" />
<line x1="162.1" y1="210.3" x2="163.1" y2="210.3" stroke="#777" stroke-width="0.4" />
<line x1="162.1" y1="216" x2="163.1" y2="216" stroke="#777" stroke-width="0.4" />
<line x1="162.1" y1="222.8" x2="163.1" y2="222.8" stroke="#777" stroke-width="0.4" />
<line x1="162.1" y1="229.7" x2="163.1" y2="229.7" stroke="#777" stroke-width="0.4" />
<text x="239.6" y="179.85" font-size="3" text-anchor="start" font-weight="normal" fill="#383838" stroke="#383838" stroke-width="0.09" >2.15</text>
<line x1="237.7" y1="178.8" x2="236.7" y2="178.8" stroke="#777" stroke-width="0.4" />
<text x="239.6" y="191.65" font-size="3" text-anchor="start" font-weight="normal" fill="#383838" stroke="#383838" stroke-width="0.09" >2.10</text>
<line x1="237.7" y1="190.6" x2="236.7" y2="190.6" stroke="#777" stroke-width="0.4" />
<text x="239.6" y="203.25" font-size="3" text-anchor="start" font-weight="normal" fill="#383838" stroke="#383838" stroke-width="0.09" >2.05</text>
<line x1="237.7" y1="202.2" x2="236.7" y2="202.2" stroke="#777" stroke-width="0.4" />
<text x="239.6" y="215.35" font-size="3" text-anchor="start" font-weight="normal" fill="#383838" stroke="#383838" stroke-width="0.09" >2.00</text>
<line x1="237.7" y1="214.3" x2="236.7" y2="214.3" stroke="#777" stroke-width="0.4" />
<text x="239.6" y="227.25" font-size="3" text-anchor="start" font-weight="normal" fill="#383838" stroke="#383838" stroke-width="0.09" >1.95</text>
<line x1="237.7" y1="226.2" x2="236.7" y2="226.2" stroke="#777" stroke-width="0.4" />
<text x="165.5" y="236.95" font-size="3.02" text-anchor="middle" font-weight="normal" fill="#383838" stroke="#383838" stroke-width="0.09" >180</text>
<text x="182.39" y="236.95" font-size="3.02" text-anchor="middle" font-weight="normal" fill="#383838" stroke="#383838" stroke-width="0.09" >200</text>
<text x="199.28" y="236.95" font-size="3.02" text-anchor="middle" font-weight="normal" fill="#383838" stroke="#383838" stroke-width="0.09" >220</text>
<text x="216.16" y="236.95" font-size="3.02" text-anchor="middle" font-weight="normal" fill="#383838" stroke="#383838" stroke-width="0.09" >240</text>
<text x="233.05" y="236.95" font-size="3.02" text-anchor="middle" font-weight="normal" fill="#383838" stroke="#383838" stroke-width="0.09" >260</text>
<line x1="165.5" y1="232.7" x2="165.5" y2="231.7" stroke="#777" stroke-width="0.4" />
<line x1="182.39" y1="232.7" x2="182.39" y2="231.7" stroke="#777" stroke-width="0.4" />
<line x1="199.28" y1="232.7" x2="199.28" y2="231.7" stroke="#777" stroke-width="0.4" />
<line x1="216.16" y1="232.7" x2="216.16" y2="231.7" stroke="#777" stroke-width="0.4" />
<line x1="233.05" y1="232.7" x2="233.05" y2="231.7" stroke="#777" stroke-width="0.4" />
<text x="152.2" y="201.7" font-size="4.8" text-anchor="middle" font-weight="normal" fill="#333" stroke="#333" stroke-width="0.14" transform="rotate(-90 152.2 201.7)" >Crystallographic axis, Å</text>
<text x="249.2" y="201.7" font-size="5" text-anchor="middle" font-weight="normal" fill="#333" stroke="#333" stroke-width="0.15" transform="rotate(-90 249.2 201.7)" >Average Fe2–N bond, Å</text>
<text x="199.6" y="242.5" font-size="4.3" text-anchor="middle" font-weight="bold" fill="#222" stroke="#222" stroke-width="0.13" ><tspan font-style="italic">T</tspan>, K</text>
<text x="177.5" y="190" font-size="4.3" text-anchor="middle" font-weight="bold" fill="#222" stroke="#222" stroke-width="0.13" >LS state</text>
<text x="177.5" y="194.6" font-size="3.9" text-anchor="middle" font-weight="bold" fill="#2a2a2a" stroke="#2a2a2a" stroke-width="0.12" >(PTE)</text>
<text x="224.8" y="190" font-size="4.3" text-anchor="middle" font-weight="bold" fill="#222" stroke="#222" stroke-width="0.13" >HS state</text>
<text x="224.8" y="194.6" font-size="3.9" text-anchor="middle" font-weight="bold" fill="#2a2a2a" stroke="#2a2a2a" stroke-width="0.12" >(PTE)</text>
<text x="198" y="231.2" font-size="3.7" text-anchor="middle" font-weight="bold" fill="#1e1e1e" stroke="#1e1e1e" stroke-width="0.11" >ATE</text>
<line x1="164.4" y1="206" x2="171.2" y2="206" stroke="#f3c27e" stroke-width="1.4" />
<text x="172.3" y="207.05" font-size="3.1" text-anchor="start" font-weight="normal" fill="#333" stroke="#333" stroke-width="0.09" >a-axis</text>
<line x1="164.4" y1="209.8" x2="171.2" y2="209.8" stroke="#eea0a0" stroke-width="1.4" />
<text x="172.3" y="210.85" font-size="3.1" text-anchor="start" font-weight="normal" fill="#333" stroke="#333" stroke-width="0.09" >b-axis</text>
<line x1="164.4" y1="214.2" x2="171.2" y2="214.2" stroke="#a9d0f0" stroke-width="1.4" />
<text x="172.3" y="215.25" font-size="3.1" text-anchor="start" font-weight="normal" fill="#333" stroke="#333" stroke-width="0.09" >c-axis</text>
<line x1="164.4" y1="219" x2="171.2" y2="219" stroke="#c4c4c4" stroke-width="1.4" />
<text x="172.3" y="220.05" font-size="3.1" text-anchor="start" font-weight="normal" fill="#333" stroke="#333" stroke-width="0.09" >Avg Fe2–N</text>
<polyline points="165.8,224.8 185,223.3 195,221.2 197,216 197.8,205 198.3,190 198.8,180 199.5,176.3 233.6,176.2" fill="none" stroke="#9c9c9c" stroke-width="0.75" stroke-linejoin="round" stroke-linecap="round" />
<circle cx="165.8" cy="224.8" r="0.75" fill="#fff" stroke="#9c9c9c" stroke-width="0.45"/>
<circle cx="168.72" cy="224.44" r="0.75" fill="#fff" stroke="#9c9c9c" stroke-width="0.45"/>
<circle cx="171.64" cy="224.08" r="0.75" fill="#fff" stroke="#9c9c9c" stroke-width="0.45"/>
<circle cx="174.56" cy="223.72" r="0.75" fill="#fff" stroke="#9c9c9c" stroke-width="0.45"/>
<circle cx="177.48" cy="223.36" r="0.75" fill="#fff" stroke="#9c9c9c" stroke-width="0.45"/>
<circle cx="180.4" cy="223" r="0.75" fill="#fff" stroke="#9c9c9c" stroke-width="0.45"/>
<circle cx="183.32" cy="222.64" r="0.75" fill="#fff" stroke="#9c9c9c" stroke-width="0.45"/>
<circle cx="186.24" cy="222.28" r="0.75" fill="#fff" stroke="#9c9c9c" stroke-width="0.45"/>
<circle cx="189.16" cy="221.92" r="0.75" fill="#fff" stroke="#9c9c9c" stroke-width="0.45"/>
<circle cx="192.08" cy="221.56" r="0.75" fill="#fff" stroke="#9c9c9c" stroke-width="0.45"/>
<circle cx="195" cy="221.2" r="0.75" fill="#fff" stroke="#9c9c9c" stroke-width="0.45"/>
<circle cx="199.5" cy="176.3" r="0.75" fill="#fff" stroke="#9c9c9c" stroke-width="0.45"/>
<circle cx="202.6" cy="176.29" r="0.75" fill="#fff" stroke="#9c9c9c" stroke-width="0.45"/>
<circle cx="205.7" cy="176.28" r="0.75" fill="#fff" stroke="#9c9c9c" stroke-width="0.45"/>
<circle cx="208.8" cy="176.27" r="0.75" fill="#fff" stroke="#9c9c9c" stroke-width="0.45"/>
<circle cx="211.9" cy="176.26" r="0.75" fill="#fff" stroke="#9c9c9c" stroke-width="0.45"/>
<circle cx="215" cy="176.25" r="0.75" fill="#fff" stroke="#9c9c9c" stroke-width="0.45"/>
<circle cx="218.1" cy="176.25" r="0.75" fill="#fff" stroke="#9c9c9c" stroke-width="0.45"/>
<circle cx="221.2" cy="176.24" r="0.75" fill="#fff" stroke="#9c9c9c" stroke-width="0.45"/>
<circle cx="224.3" cy="176.23" r="0.75" fill="#fff" stroke="#9c9c9c" stroke-width="0.45"/>
<circle cx="227.4" cy="176.22" r="0.75" fill="#fff" stroke="#9c9c9c" stroke-width="0.45"/>
<circle cx="230.5" cy="176.21" r="0.75" fill="#fff" stroke="#9c9c9c" stroke-width="0.45"/>
<circle cx="233.6" cy="176.2" r="0.75" fill="#fff" stroke="#9c9c9c" stroke-width="0.45"/>
<polyline points="165.8,229 185,228.2 195,227.2 198,224 199.5,219 201.5,217.7 206,215.5 215,214.6 235,214" fill="none" stroke="#f2b04a" stroke-width="0.75" stroke-linejoin="round" stroke-linecap="round" />
<circle cx="170" cy="228.8" r="0.9" fill="#f2b04a" stroke="none" stroke-width="0.3"/>
<circle cx="173.57" cy="228.57" r="0.9" fill="#f2b04a" stroke="none" stroke-width="0.3"/>
<circle cx="177.14" cy="228.34" r="0.9" fill="#f2b04a" stroke="none" stroke-width="0.3"/>
<circle cx="180.71" cy="228.11" r="0.9" fill="#f2b04a" stroke="none" stroke-width="0.3"/>
<circle cx="184.29" cy="227.89" r="0.9" fill="#f2b04a" stroke="none" stroke-width="0.3"/>
<circle cx="187.86" cy="227.66" r="0.9" fill="#f2b04a" stroke="none" stroke-width="0.3"/>
<circle cx="191.43" cy="227.43" r="0.9" fill="#f2b04a" stroke="none" stroke-width="0.3"/>
<circle cx="195" cy="227.2" r="0.9" fill="#f2b04a" stroke="none" stroke-width="0.3"/>
<circle cx="203" cy="216.8" r="0.9" fill="#f2b04a" stroke="none" stroke-width="0.3"/>
<circle cx="206.56" cy="216.49" r="0.9" fill="#f2b04a" stroke="none" stroke-width="0.3"/>
<circle cx="210.11" cy="216.18" r="0.9" fill="#f2b04a" stroke="none" stroke-width="0.3"/>
<circle cx="213.67" cy="215.87" r="0.9" fill="#f2b04a" stroke="none" stroke-width="0.3"/>
<circle cx="217.22" cy="215.56" r="0.9" fill="#f2b04a" stroke="none" stroke-width="0.3"/>
<circle cx="220.78" cy="215.24" r="0.9" fill="#f2b04a" stroke="none" stroke-width="0.3"/>
<circle cx="224.33" cy="214.93" r="0.9" fill="#f2b04a" stroke="none" stroke-width="0.3"/>
<circle cx="227.89" cy="214.62" r="0.9" fill="#f2b04a" stroke="none" stroke-width="0.3"/>
<circle cx="231.44" cy="214.31" r="0.9" fill="#f2b04a" stroke="none" stroke-width="0.3"/>
<circle cx="235" cy="214" r="0.9" fill="#f2b04a" stroke="none" stroke-width="0.3"/>
<polyline points="165.8,227.3 185,226 195,224.2 197.5,220 199,214 201,212.3 210,211.3 235,210.2" fill="none" stroke="#78b8ec" stroke-width="0.75" stroke-linejoin="round" stroke-linecap="round" />
<circle cx="165.8" cy="227.3" r="0.9" fill="#78b8ec" stroke="none" stroke-width="0.3"/>
<circle cx="169.45" cy="226.91" r="0.9" fill="#78b8ec" stroke="none" stroke-width="0.3"/>
<circle cx="173.1" cy="226.53" r="0.9" fill="#78b8ec" stroke="none" stroke-width="0.3"/>
<circle cx="176.75" cy="226.14" r="0.9" fill="#78b8ec" stroke="none" stroke-width="0.3"/>
<circle cx="180.4" cy="225.75" r="0.9" fill="#78b8ec" stroke="none" stroke-width="0.3"/>
<circle cx="184.05" cy="225.36" r="0.9" fill="#78b8ec" stroke="none" stroke-width="0.3"/>
<circle cx="187.7" cy="224.97" r="0.9" fill="#78b8ec" stroke="none" stroke-width="0.3"/>
<circle cx="191.35" cy="224.59" r="0.9" fill="#78b8ec" stroke="none" stroke-width="0.3"/>
<circle cx="195" cy="224.2" r="0.9" fill="#78b8ec" stroke="none" stroke-width="0.3"/>
<circle cx="201" cy="212.3" r="0.9" fill="#78b8ec" stroke="none" stroke-width="0.3"/>
<circle cx="204.4" cy="212.09" r="0.9" fill="#78b8ec" stroke="none" stroke-width="0.3"/>
<circle cx="207.8" cy="211.88" r="0.9" fill="#78b8ec" stroke="none" stroke-width="0.3"/>
<circle cx="211.2" cy="211.67" r="0.9" fill="#78b8ec" stroke="none" stroke-width="0.3"/>
<circle cx="214.6" cy="211.46" r="0.9" fill="#78b8ec" stroke="none" stroke-width="0.3"/>
<circle cx="218" cy="211.25" r="0.9" fill="#78b8ec" stroke="none" stroke-width="0.3"/>
<circle cx="221.4" cy="211.04" r="0.9" fill="#78b8ec" stroke="none" stroke-width="0.3"/>
<circle cx="224.8" cy="210.83" r="0.9" fill="#78b8ec" stroke="none" stroke-width="0.3"/>
<circle cx="228.2" cy="210.62" r="0.9" fill="#78b8ec" stroke="none" stroke-width="0.3"/>
<circle cx="231.6" cy="210.41" r="0.9" fill="#78b8ec" stroke="none" stroke-width="0.3"/>
<circle cx="235" cy="210.2" r="0.9" fill="#78b8ec" stroke="none" stroke-width="0.3"/>
<polyline points="165.8,177.7 173.7,177 177,178.4 181.6,175.1 189.8,175 193.4,177.7 196.7,182.3 197.9,190 198.8,198 200.5,202.5 204,204.5 210,205.6 215,206 225,205 235,204.2" fill="none" stroke="#e47a7a" stroke-width="0.75" stroke-linejoin="round" stroke-linecap="round" />
<circle cx="165.8" cy="177.7" r="0.9" fill="#e47a7a" stroke="none" stroke-width="0.3"/>
<circle cx="169.25" cy="177.7" r="0.9" fill="#e47a7a" stroke="none" stroke-width="0.3"/>
<circle cx="172.7" cy="177.7" r="0.9" fill="#e47a7a" stroke="none" stroke-width="0.3"/>
<circle cx="176.15" cy="177.7" r="0.9" fill="#e47a7a" stroke="none" stroke-width="0.3"/>
<circle cx="179.6" cy="177.7" r="0.9" fill="#e47a7a" stroke="none" stroke-width="0.3"/>
<circle cx="183.05" cy="177.7" r="0.9" fill="#e47a7a" stroke="none" stroke-width="0.3"/>
<circle cx="186.5" cy="177.7" r="0.9" fill="#e47a7a" stroke="none" stroke-width="0.3"/>
<circle cx="189.95" cy="177.7" r="0.9" fill="#e47a7a" stroke="none" stroke-width="0.3"/>
<circle cx="193.4" cy="177.7" r="0.9" fill="#e47a7a" stroke="none" stroke-width="0.3"/>
<circle cx="201" cy="203" r="0.9" fill="#e47a7a" stroke="none" stroke-width="0.3"/>
<circle cx="204.4" cy="203.12" r="0.9" fill="#e47a7a" stroke="none" stroke-width="0.3"/>
<circle cx="207.8" cy="203.24" r="0.9" fill="#e47a7a" stroke="none" stroke-width="0.3"/>
<circle cx="211.2" cy="203.36" r="0.9" fill="#e47a7a" stroke="none" stroke-width="0.3"/>
<circle cx="214.6" cy="203.48" r="0.9" fill="#e47a7a" stroke="none" stroke-width="0.3"/>
<circle cx="218" cy="203.6" r="0.9" fill="#e47a7a" stroke="none" stroke-width="0.3"/>
<circle cx="221.4" cy="203.72" r="0.9" fill="#e47a7a" stroke="none" stroke-width="0.3"/>
<circle cx="224.8" cy="203.84" r="0.9" fill="#e47a7a" stroke="none" stroke-width="0.3"/>
<circle cx="228.2" cy="203.96" r="0.9" fill="#e47a7a" stroke="none" stroke-width="0.3"/>
<circle cx="231.6" cy="204.08" r="0.9" fill="#e47a7a" stroke="none" stroke-width="0.3"/>
<circle cx="235" cy="204.2" r="0.9" fill="#e47a7a" stroke="none" stroke-width="0.3"/>
<path d="M198.5,183.5 Q199.5,179.5 204.1,178.7" fill="none" stroke="#555" stroke-width="0.4" stroke-linecap="round" stroke-linejoin="round" />
<polyline points="301.4,119.6 350.6,119.4 350.6,202.8" fill="none" stroke="#b4b4b4" stroke-width="0.75" stroke-linejoin="round" stroke-linecap="round" />
<polyline points="302.5,205.2 350.6,202.8" fill="none" stroke="#b4b4b4" stroke-width="0.75" stroke-linejoin="round" stroke-linecap="round" />
<polyline points="312,116.8 350.6,117.6" fill="none" stroke="#c8c8c8" stroke-width="0.55" stroke-linejoin="round" stroke-linecap="round" />
<polyline points="316,198.2 350.6,197.6" fill="none" stroke="#cbcbcb" stroke-width="0.55" stroke-linejoin="round" stroke-linecap="round" />
<polyline points="302.5,205.2 316,198.2" fill="none" stroke="#c8c8c8" stroke-width="0.55" stroke-linejoin="round" stroke-linecap="round" />
<line x1="318.8" y1="119.5" x2="318.8" y2="198.4" stroke="#d2d2d2" stroke-width="0.6" />
<line x1="333.4" y1="119.5" x2="333.4" y2="198" stroke="#d2d2d2" stroke-width="0.6" />
<line x1="312" y1="116.8" x2="301.4" y2="119.6" stroke="#c8c8c8" stroke-width="0.55" />
<polyline points="266.3,97.2 269.6,99 269.6,103 266.3,104.6 263,103 263,99 266.3,97.2" fill="none" stroke="#bfc1c4" stroke-width="0.5" stroke-linejoin="round" stroke-linecap="round" />
<polyline points="263,99 263,103 259.7,103.8 257.5,101 259.7,98 263,99" fill="none" stroke="#bfc1c4" stroke-width="0.5" stroke-linejoin="round" stroke-linecap="round" />
<polyline points="269.6,99 269.6,103 272.9,103.8 275.1,101 272.9,98 269.6,99" fill="none" stroke="#bfc1c4" stroke-width="0.5" stroke-linejoin="round" stroke-linecap="round" />
<line x1="259.7" y1="98" x2="258.7" y2="93.6" stroke="#bfc1c4" stroke-width="0.5" />
<line x1="272.9" y1="98" x2="273.9" y2="93.6" stroke="#bfc1c4" stroke-width="0.5" />
<line x1="259.7" y1="103.8" x2="258.5" y2="107.8" stroke="#bfc1c4" stroke-width="0.5" />
<line x1="272.9" y1="103.8" x2="274.1" y2="107.8" stroke="#bfc1c4" stroke-width="0.5" />
<line x1="257.5" y1="101" x2="254.3" y2="100.4" stroke="#bfc1c4" stroke-width="0.5" />
<line x1="275.1" y1="101" x2="278.3" y2="100.4" stroke="#bfc1c4" stroke-width="0.5" />
<line x1="263" y1="103" x2="266.3" y2="107.2" stroke="#c4d8ee" stroke-width="0.65" />
<line x1="269.6" y1="103" x2="266.3" y2="107.2" stroke="#c4d8ee" stroke-width="0.65" />
<polyline points="263,99 263,103" fill="none" stroke="#c4d8ee" stroke-width="0.7" stroke-linejoin="round" stroke-linecap="round" />
<polyline points="269.6,99 269.6,103" fill="none" stroke="#c4d8ee" stroke-width="0.7" stroke-linejoin="round" stroke-linecap="round" />
<circle cx="263" cy="103" r="0.55" fill="#c4d8ee" stroke="none" stroke-width="0.3"/>
<circle cx="269.6" cy="103" r="0.55" fill="#c4d8ee" stroke="none" stroke-width="0.3"/>
<circle cx="266.3" cy="97.2" r="0.5" fill="#f0dc96" stroke="none" stroke-width="0.3"/>
<polyline points="287.8,99.4 291.1,101.2 291.1,105.2 287.8,106.8 284.5,105.2 284.5,101.2 287.8,99.4" fill="none" stroke="#bfc1c4" stroke-width="0.5" stroke-linejoin="round" stroke-linecap="round" />
<polyline points="284.5,101.2 284.5,105.2 281.2,106 279,103.2 281.2,100.2 284.5,101.2" fill="none" stroke="#bfc1c4" stroke-width="0.5" stroke-linejoin="round" stroke-linecap="round" />
<polyline points="291.1,101.2 291.1,105.2 294.4,106 296.6,103.2 294.4,100.2 291.1,101.2" fill="none" stroke="#bfc1c4" stroke-width="0.5" stroke-linejoin="round" stroke-linecap="round" />
<line x1="281.2" y1="100.2" x2="280.2" y2="95.8" stroke="#bfc1c4" stroke-width="0.5" />
<line x1="294.4" y1="100.2" x2="295.4" y2="95.8" stroke="#bfc1c4" stroke-width="0.5" />
<line x1="281.2" y1="106" x2="280" y2="110" stroke="#bfc1c4" stroke-width="0.5" />
<line x1="294.4" y1="106" x2="295.6" y2="110" stroke="#bfc1c4" stroke-width="0.5" />
<line x1="279" y1="103.2" x2="275.8" y2="102.6" stroke="#bfc1c4" stroke-width="0.5" />
<line x1="296.6" y1="103.2" x2="299.8" y2="102.6" stroke="#bfc1c4" stroke-width="0.5" />
<line x1="284.5" y1="105.2" x2="287.8" y2="109.4" stroke="#c4d8ee" stroke-width="0.65" />
<line x1="291.1" y1="105.2" x2="287.8" y2="109.4" stroke="#c4d8ee" stroke-width="0.65" />
<polyline points="284.5,101.2 284.5,105.2" fill="none" stroke="#c4d8ee" stroke-width="0.7" stroke-linejoin="round" stroke-linecap="round" />
<polyline points="291.1,101.2 291.1,105.2" fill="none" stroke="#c4d8ee" stroke-width="0.7" stroke-linejoin="round" stroke-linecap="round" />
<circle cx="284.5" cy="105.2" r="0.55" fill="#c4d8ee" stroke="none" stroke-width="0.3"/>
<circle cx="291.1" cy="105.2" r="0.55" fill="#c4d8ee" stroke="none" stroke-width="0.3"/>
<circle cx="287.8" cy="99.4" r="0.5" fill="#f0dc96" stroke="none" stroke-width="0.3"/>
<polyline points="283.5,142.2 286.8,140.4 286.8,136.4 283.5,134.8 280.2,136.4 280.2,140.4 283.5,142.2" fill="none" stroke="#bfc1c4" stroke-width="0.5" stroke-linejoin="round" stroke-linecap="round" />
<polyline points="280.2,140.4 280.2,136.4 276.9,135.6 274.7,138.4 276.9,141.4 280.2,140.4" fill="none" stroke="#bfc1c4" stroke-width="0.5" stroke-linejoin="round" stroke-linecap="round" />
<polyline points="286.8,140.4 286.8,136.4 290.1,135.6 292.3,138.4 290.1,141.4 286.8,140.4" fill="none" stroke="#bfc1c4" stroke-width="0.5" stroke-linejoin="round" stroke-linecap="round" />
<line x1="276.9" y1="141.4" x2="275.9" y2="145.8" stroke="#bfc1c4" stroke-width="0.5" />
<line x1="290.1" y1="141.4" x2="291.1" y2="145.8" stroke="#bfc1c4" stroke-width="0.5" />
<line x1="276.9" y1="135.6" x2="275.7" y2="131.6" stroke="#bfc1c4" stroke-width="0.5" />
<line x1="290.1" y1="135.6" x2="291.3" y2="131.6" stroke="#bfc1c4" stroke-width="0.5" />
<line x1="274.7" y1="138.4" x2="271.5" y2="139" stroke="#bfc1c4" stroke-width="0.5" />
<line x1="292.3" y1="138.4" x2="295.5" y2="139" stroke="#bfc1c4" stroke-width="0.5" />
<line x1="280.2" y1="136.4" x2="283.5" y2="132.2" stroke="#c4d8ee" stroke-width="0.65" />
<line x1="286.8" y1="136.4" x2="283.5" y2="132.2" stroke="#c4d8ee" stroke-width="0.65" />
<polyline points="280.2,140.4 280.2,136.4" fill="none" stroke="#c4d8ee" stroke-width="0.7" stroke-linejoin="round" stroke-linecap="round" />
<polyline points="286.8,140.4 286.8,136.4" fill="none" stroke="#c4d8ee" stroke-width="0.7" stroke-linejoin="round" stroke-linecap="round" />
<circle cx="280.2" cy="136.4" r="0.55" fill="#c4d8ee" stroke="none" stroke-width="0.3"/>
<circle cx="286.8" cy="136.4" r="0.55" fill="#c4d8ee" stroke="none" stroke-width="0.3"/>
<circle cx="283.5" cy="142.2" r="0.5" fill="#f0dc96" stroke="none" stroke-width="0.3"/>
<polyline points="323,139.2 326.3,141 326.3,145 323,146.6 319.7,145 319.7,141 323,139.2" fill="none" stroke="#bfc1c4" stroke-width="0.5" stroke-linejoin="round" stroke-linecap="round" />
<polyline points="319.7,141 319.7,145 316.4,145.8 314.2,143 316.4,140 319.7,141" fill="none" stroke="#bfc1c4" stroke-width="0.5" stroke-linejoin="round" stroke-linecap="round" />
<polyline points="326.3,141 326.3,145 329.6,145.8 331.8,143 329.6,140 326.3,141" fill="none" stroke="#bfc1c4" stroke-width="0.5" stroke-linejoin="round" stroke-linecap="round" />
<line x1="316.4" y1="140" x2="315.4" y2="135.6" stroke="#bfc1c4" stroke-width="0.5" />
<line x1="329.6" y1="140" x2="330.6" y2="135.6" stroke="#bfc1c4" stroke-width="0.5" />
<line x1="316.4" y1="145.8" x2="315.2" y2="149.8" stroke="#bfc1c4" stroke-width="0.5" />
<line x1="329.6" y1="145.8" x2="330.8" y2="149.8" stroke="#bfc1c4" stroke-width="0.5" />
<line x1="314.2" y1="143" x2="311" y2="142.4" stroke="#bfc1c4" stroke-width="0.5" />
<line x1="331.8" y1="143" x2="335" y2="142.4" stroke="#bfc1c4" stroke-width="0.5" />
<line x1="319.7" y1="145" x2="323" y2="149.2" stroke="#c4d8ee" stroke-width="0.65" />
<line x1="326.3" y1="145" x2="323" y2="149.2" stroke="#c4d8ee" stroke-width="0.65" />
<polyline points="319.7,141 319.7,145" fill="none" stroke="#c4d8ee" stroke-width="0.7" stroke-linejoin="round" stroke-linecap="round" />
<polyline points="326.3,141 326.3,145" fill="none" stroke="#c4d8ee" stroke-width="0.7" stroke-linejoin="round" stroke-linecap="round" />
<circle cx="319.7" cy="145" r="0.55" fill="#c4d8ee" stroke="none" stroke-width="0.3"/>
<circle cx="326.3" cy="145" r="0.55" fill="#c4d8ee" stroke="none" stroke-width="0.3"/>
<circle cx="323" cy="139.2" r="0.5" fill="#f0dc96" stroke="none" stroke-width="0.3"/>
<polyline points="344.6,136.8 347.9,138.6 347.9,142.6 344.6,144.2 341.3,142.6 341.3,138.6 344.6,136.8" fill="none" stroke="#bfc1c4" stroke-width="0.5" stroke-linejoin="round" stroke-linecap="round" />
<polyline points="341.3,138.6 341.3,142.6 338,143.4 335.8,140.6 338,137.6 341.3,138.6" fill="none" stroke="#bfc1c4" stroke-width="0.5" stroke-linejoin="round" stroke-linecap="round" />
<polyline points="347.9,138.6 347.9,142.6 351.2,143.4 353.4,140.6 351.2,137.6 347.9,138.6" fill="none" stroke="#bfc1c4" stroke-width="0.5" stroke-linejoin="round" stroke-linecap="round" />
<line x1="338" y1="137.6" x2="337" y2="133.2" stroke="#bfc1c4" stroke-width="0.5" />
<line x1="351.2" y1="137.6" x2="352.2" y2="133.2" stroke="#bfc1c4" stroke-width="0.5" />
<line x1="338" y1="143.4" x2="336.8" y2="147.4" stroke="#bfc1c4" stroke-width="0.5" />
<line x1="351.2" y1="143.4" x2="352.4" y2="147.4" stroke="#bfc1c4" stroke-width="0.5" />
<line x1="335.8" y1="140.6" x2="332.6" y2="140" stroke="#bfc1c4" stroke-width="0.5" />
<line x1="353.4" y1="140.6" x2="356.6" y2="140" stroke="#bfc1c4" stroke-width="0.5" />
<line x1="341.3" y1="142.6" x2="344.6" y2="146.8" stroke="#c4d8ee" stroke-width="0.65" />
<line x1="347.9" y1="142.6" x2="344.6" y2="146.8" stroke="#c4d8ee" stroke-width="0.65" />
<polyline points="341.3,138.6 341.3,142.6" fill="none" stroke="#c4d8ee" stroke-width="0.7" stroke-linejoin="round" stroke-linecap="round" />
<polyline points="347.9,138.6 347.9,142.6" fill="none" stroke="#c4d8ee" stroke-width="0.7" stroke-linejoin="round" stroke-linecap="round" />
<circle cx="341.3" cy="142.6" r="0.55" fill="#c4d8ee" stroke="none" stroke-width="0.3"/>
<circle cx="347.9" cy="142.6" r="0.55" fill="#c4d8ee" stroke="none" stroke-width="0.3"/>
<circle cx="344.6" cy="136.8" r="0.5" fill="#f0dc96" stroke="none" stroke-width="0.3"/>
<polyline points="327.9,183.1 331.2,181.3 331.2,177.3 327.9,175.7 324.6,177.3 324.6,181.3 327.9,183.1" fill="none" stroke="#bfc1c4" stroke-width="0.5" stroke-linejoin="round" stroke-linecap="round" />
<polyline points="324.6,181.3 324.6,177.3 321.3,176.5 319.1,179.3 321.3,182.3 324.6,181.3" fill="none" stroke="#bfc1c4" stroke-width="0.5" stroke-linejoin="round" stroke-linecap="round" />
<polyline points="331.2,181.3 331.2,177.3 334.5,176.5 336.7,179.3 334.5,182.3 331.2,181.3" fill="none" stroke="#bfc1c4" stroke-width="0.5" stroke-linejoin="round" stroke-linecap="round" />
<line x1="321.3" y1="182.3" x2="320.3" y2="186.7" stroke="#bfc1c4" stroke-width="0.5" />
<line x1="334.5" y1="182.3" x2="335.5" y2="186.7" stroke="#bfc1c4" stroke-width="0.5" />
<line x1="321.3" y1="176.5" x2="320.1" y2="172.5" stroke="#bfc1c4" stroke-width="0.5" />
<line x1="334.5" y1="176.5" x2="335.7" y2="172.5" stroke="#bfc1c4" stroke-width="0.5" />
<line x1="319.1" y1="179.3" x2="315.9" y2="179.9" stroke="#bfc1c4" stroke-width="0.5" />
<line x1="336.7" y1="179.3" x2="339.9" y2="179.9" stroke="#bfc1c4" stroke-width="0.5" />
<line x1="324.6" y1="177.3" x2="327.9" y2="173.1" stroke="#c4d8ee" stroke-width="0.65" />
<line x1="331.2" y1="177.3" x2="327.9" y2="173.1" stroke="#c4d8ee" stroke-width="0.65" />
<polyline points="324.6,181.3 324.6,177.3" fill="none" stroke="#c4d8ee" stroke-width="0.7" stroke-linejoin="round" stroke-linecap="round" />
<polyline points="331.2,181.3 331.2,177.3" fill="none" stroke="#c4d8ee" stroke-width="0.7" stroke-linejoin="round" stroke-linecap="round" />
<circle cx="324.6" cy="177.3" r="0.55" fill="#c4d8ee" stroke="none" stroke-width="0.3"/>
<circle cx="331.2" cy="177.3" r="0.55" fill="#c4d8ee" stroke="none" stroke-width="0.3"/>
<circle cx="327.9" cy="183.1" r="0.5" fill="#f0dc96" stroke="none" stroke-width="0.3"/>
<polyline points="266.3,180.4 269.6,182.2 269.6,186.2 266.3,187.8 263,186.2 263,182.2 266.3,180.4" fill="none" stroke="#bfc1c4" stroke-width="0.5" stroke-linejoin="round" stroke-linecap="round" />
<polyline points="263,182.2 263,186.2 259.7,187 257.5,184.2 259.7,181.2 263,182.2" fill="none" stroke="#bfc1c4" stroke-width="0.5" stroke-linejoin="round" stroke-linecap="round" />
<polyline points="269.6,182.2 269.6,186.2 272.9,187 275.1,184.2 272.9,181.2 269.6,182.2" fill="none" stroke="#bfc1c4" stroke-width="0.5" stroke-linejoin="round" stroke-linecap="round" />
<line x1="259.7" y1="181.2" x2="258.7" y2="176.8" stroke="#bfc1c4" stroke-width="0.5" />
<line x1="272.9" y1="181.2" x2="273.9" y2="176.8" stroke="#bfc1c4" stroke-width="0.5" />
<line x1="259.7" y1="187" x2="258.5" y2="191" stroke="#bfc1c4" stroke-width="0.5" />
<line x1="272.9" y1="187" x2="274.1" y2="191" stroke="#bfc1c4" stroke-width="0.5" />
<line x1="257.5" y1="184.2" x2="254.3" y2="183.6" stroke="#bfc1c4" stroke-width="0.5" />
<line x1="275.1" y1="184.2" x2="278.3" y2="183.6" stroke="#bfc1c4" stroke-width="0.5" />
<line x1="263" y1="186.2" x2="266.3" y2="190.4" stroke="#c4d8ee" stroke-width="0.65" />
<line x1="269.6" y1="186.2" x2="266.3" y2="190.4" stroke="#c4d8ee" stroke-width="0.65" />
<polyline points="263,182.2 263,186.2" fill="none" stroke="#c4d8ee" stroke-width="0.7" stroke-linejoin="round" stroke-linecap="round" />
<polyline points="269.6,182.2 269.6,186.2" fill="none" stroke="#c4d8ee" stroke-width="0.7" stroke-linejoin="round" stroke-linecap="round" />
<circle cx="263" cy="186.2" r="0.55" fill="#c4d8ee" stroke="none" stroke-width="0.3"/>
<circle cx="269.6" cy="186.2" r="0.55" fill="#c4d8ee" stroke="none" stroke-width="0.3"/>
<circle cx="266.3" cy="180.4" r="0.5" fill="#f0dc96" stroke="none" stroke-width="0.3"/>
<polyline points="283.8,225.2 287.1,223.4 287.1,219.4 283.8,217.8 280.5,219.4 280.5,223.4 283.8,225.2" fill="none" stroke="#bfc1c4" stroke-width="0.5" stroke-linejoin="round" stroke-linecap="round" />
<polyline points="280.5,223.4 280.5,219.4 277.2,218.6 275,221.4 277.2,224.4 280.5,223.4" fill="none" stroke="#bfc1c4" stroke-width="0.5" stroke-linejoin="round" stroke-linecap="round" />
<polyline points="287.1,223.4 287.1,219.4 290.4,218.6 292.6,221.4 290.4,224.4 287.1,223.4" fill="none" stroke="#bfc1c4" stroke-width="0.5" stroke-linejoin="round" stroke-linecap="round" />
<line x1="277.2" y1="224.4" x2="276.2" y2="228.8" stroke="#bfc1c4" stroke-width="0.5" />
<line x1="290.4" y1="224.4" x2="291.4" y2="228.8" stroke="#bfc1c4" stroke-width="0.5" />
<line x1="277.2" y1="218.6" x2="276" y2="214.6" stroke="#bfc1c4" stroke-width="0.5" />
<line x1="290.4" y1="218.6" x2="291.6" y2="214.6" stroke="#bfc1c4" stroke-width="0.5" />
<line x1="275" y1="221.4" x2="271.8" y2="222" stroke="#bfc1c4" stroke-width="0.5" />
<line x1="292.6" y1="221.4" x2="295.8" y2="222" stroke="#bfc1c4" stroke-width="0.5" />
<line x1="280.5" y1="219.4" x2="283.8" y2="215.2" stroke="#c4d8ee" stroke-width="0.65" />
<line x1="287.1" y1="219.4" x2="283.8" y2="215.2" stroke="#c4d8ee" stroke-width="0.65" />
<polyline points="280.5,223.4 280.5,219.4" fill="none" stroke="#c4d8ee" stroke-width="0.7" stroke-linejoin="round" stroke-linecap="round" />
<polyline points="287.1,223.4 287.1,219.4" fill="none" stroke="#c4d8ee" stroke-width="0.7" stroke-linejoin="round" stroke-linecap="round" />
<circle cx="280.5" cy="219.4" r="0.55" fill="#c4d8ee" stroke="none" stroke-width="0.3"/>
<circle cx="287.1" cy="219.4" r="0.55" fill="#c4d8ee" stroke="none" stroke-width="0.3"/>
<circle cx="283.8" cy="225.2" r="0.5" fill="#f0dc96" stroke="none" stroke-width="0.3"/>
<polyline points="305.2,227.4 308.5,225.6 308.5,221.6 305.2,220 301.9,221.6 301.9,225.6 305.2,227.4" fill="none" stroke="#bfc1c4" stroke-width="0.5" stroke-linejoin="round" stroke-linecap="round" />
<polyline points="301.9,225.6 301.9,221.6 298.6,220.8 296.4,223.6 298.6,226.6 301.9,225.6" fill="none" stroke="#bfc1c4" stroke-width="0.5" stroke-linejoin="round" stroke-linecap="round" />
<polyline points="308.5,225.6 308.5,221.6 311.8,220.8 314,223.6 311.8,226.6 308.5,225.6" fill="none" stroke="#bfc1c4" stroke-width="0.5" stroke-linejoin="round" stroke-linecap="round" />
<line x1="298.6" y1="226.6" x2="297.6" y2="231" stroke="#bfc1c4" stroke-width="0.5" />
<line x1="311.8" y1="226.6" x2="312.8" y2="231" stroke="#bfc1c4" stroke-width="0.5" />
<line x1="298.6" y1="220.8" x2="297.4" y2="216.8" stroke="#bfc1c4" stroke-width="0.5" />
<line x1="311.8" y1="220.8" x2="313" y2="216.8" stroke="#bfc1c4" stroke-width="0.5" />
<line x1="296.4" y1="223.6" x2="293.2" y2="224.2" stroke="#bfc1c4" stroke-width="0.5" />
<line x1="314" y1="223.6" x2="317.2" y2="224.2" stroke="#bfc1c4" stroke-width="0.5" />
<line x1="301.9" y1="221.6" x2="305.2" y2="217.4" stroke="#c4d8ee" stroke-width="0.65" />
<line x1="308.5" y1="221.6" x2="305.2" y2="217.4" stroke="#c4d8ee" stroke-width="0.65" />
<polyline points="301.9,225.6 301.9,221.6" fill="none" stroke="#c4d8ee" stroke-width="0.7" stroke-linejoin="round" stroke-linecap="round" />
<polyline points="308.5,225.6 308.5,221.6" fill="none" stroke="#c4d8ee" stroke-width="0.7" stroke-linejoin="round" stroke-linecap="round" />
<circle cx="301.9" cy="221.6" r="0.55" fill="#c4d8ee" stroke="none" stroke-width="0.3"/>
<circle cx="308.5" cy="221.6" r="0.55" fill="#c4d8ee" stroke="none" stroke-width="0.3"/>
<circle cx="305.2" cy="227.4" r="0.5" fill="#f0dc96" stroke="none" stroke-width="0.3"/>
<polyline points="306.52,143.81 309.39,141.68 308.86,137.91 305.54,136.85 302.65,138.79 303.18,142.55 306.52,143.81" fill="none" stroke="#8f969e" stroke-width="0.6" stroke-linejoin="round" stroke-linecap="round" />
<polyline points="303.18,142.55 302.65,138.79 299.44,138.47 297.74,141.4 300.21,143.93 303.18,142.55" fill="none" stroke="#8f969e" stroke-width="0.6" stroke-linejoin="round" stroke-linecap="round" />
<polyline points="309.39,141.68 308.86,137.91 311.86,136.73 314.3,139.07 312.63,142.18 309.39,141.68" fill="none" stroke="#8f969e" stroke-width="0.6" stroke-linejoin="round" stroke-linecap="round" />
<line x1="300.21" y1="143.93" x2="299.85" y2="148.2" stroke="#8f969e" stroke-width="0.6" />
<line x1="312.63" y1="142.18" x2="314.15" y2="146.19" stroke="#8f969e" stroke-width="0.6" />
<line x1="299.44" y1="138.47" x2="297.78" y2="134.87" stroke="#8f969e" stroke-width="0.6" />
<line x1="311.86" y1="136.73" x2="312.46" y2="132.8" stroke="#8f969e" stroke-width="0.6" />
<line x1="297.74" y1="141.4" x2="294.81" y2="142.38" stroke="#8f969e" stroke-width="0.6" />
<line x1="314.3" y1="139.07" x2="317.39" y2="139.21" stroke="#8f969e" stroke-width="0.6" />
<line x1="302.65" y1="138.79" x2="305.2" y2="134.4" stroke="#4f92e0" stroke-width="0.75" />
<line x1="308.86" y1="137.91" x2="305.2" y2="134.4" stroke="#4f92e0" stroke-width="0.75" />
<polyline points="303.18,142.55 302.65,138.79" fill="none" stroke="#4f92e0" stroke-width="0.8" stroke-linejoin="round" stroke-linecap="round" />
<polyline points="309.39,141.68 308.86,137.91" fill="none" stroke="#4f92e0" stroke-width="0.8" stroke-linejoin="round" stroke-linecap="round" />
<circle cx="302.65" cy="138.79" r="0.6" fill="#4f92e0" stroke="none" stroke-width="0.3"/>
<circle cx="308.86" cy="137.91" r="0.6" fill="#4f92e0" stroke="none" stroke-width="0.3"/>
<circle cx="306.52" cy="143.81" r="0.6" fill="#e0b820" stroke="none" stroke-width="0.3"/>
<polyline points="307.43,185.06 310.4,183.09 310.07,179.3 306.82,178.06 303.82,179.85 304.16,183.63 307.43,185.06" fill="none" stroke="#8f969e" stroke-width="0.6" stroke-linejoin="round" stroke-linecap="round" />
<polyline points="304.16,183.63 303.82,179.85 300.64,179.36 298.79,182.2 301.12,184.85 304.16,183.63" fill="none" stroke="#8f969e" stroke-width="0.6" stroke-linejoin="round" stroke-linecap="round" />
<polyline points="310.4,183.09 310.07,179.3 313.13,178.27 315.44,180.74 313.61,183.76 310.4,183.09" fill="none" stroke="#8f969e" stroke-width="0.6" stroke-linejoin="round" stroke-linecap="round" />
<line x1="301.12" y1="184.85" x2="300.53" y2="189.1" stroke="#8f969e" stroke-width="0.6" />
<line x1="313.61" y1="183.76" x2="314.92" y2="187.84" stroke="#8f969e" stroke-width="0.6" />
<line x1="300.64" y1="179.36" x2="299.17" y2="175.68" stroke="#8f969e" stroke-width="0.6" />
<line x1="313.13" y1="178.27" x2="313.93" y2="174.39" stroke="#8f969e" stroke-width="0.6" />
<line x1="298.79" y1="182.2" x2="295.81" y2="183.03" stroke="#8f969e" stroke-width="0.6" />
<line x1="315.44" y1="180.74" x2="318.52" y2="181.04" stroke="#8f969e" stroke-width="0.6" />
<line x1="303.82" y1="179.85" x2="306.6" y2="175.6" stroke="#4f92e0" stroke-width="0.75" />
<line x1="310.07" y1="179.3" x2="306.6" y2="175.6" stroke="#4f92e0" stroke-width="0.75" />
<polyline points="304.16,183.63 303.82,179.85" fill="none" stroke="#4f92e0" stroke-width="0.8" stroke-linejoin="round" stroke-linecap="round" />
<polyline points="310.4,183.09 310.07,179.3" fill="none" stroke="#4f92e0" stroke-width="0.8" stroke-linejoin="round" stroke-linecap="round" />
<circle cx="303.82" cy="179.85" r="0.6" fill="#4f92e0" stroke="none" stroke-width="0.3"/>
<circle cx="310.07" cy="179.3" r="0.6" fill="#4f92e0" stroke="none" stroke-width="0.3"/>
<circle cx="307.43" cy="185.06" r="0.6" fill="#e0b820" stroke="none" stroke-width="0.3"/>
<path d="M266,121.5 q8,-3 16,0.5 q-8,3 -16,-0.5" fill="none" stroke="#d8d8d8" stroke-width="0.45" stroke-linecap="round" stroke-linejoin="round" />
<path d="M283,123.5 q9,-4 18,0 q-9,4 -18,0" fill="none" stroke="#d8d8d8" stroke-width="0.45" stroke-linecap="round" stroke-linejoin="round" />
<path d="M306.2,158.2 q5,-1.5 9.5,2.5 q-5,1 -9.5,-2.5" fill="none" stroke="#333" stroke-width="0.55" stroke-linecap="round" stroke-linejoin="round" />
<path d="M307,158.8 q4,0 8,2" fill="none" stroke="#5b9be2" stroke-width="0.5" stroke-linecap="round" stroke-linejoin="round" />
<path d="M317.5,162.5 q5,-3 8,0 q-3,4 -8,0" fill="none" stroke="#555" stroke-width="0.5" stroke-linecap="round" stroke-linejoin="round" />
<path d="M326,160 q8,-3 16,3" fill="none" stroke="#d4d4d4" stroke-width="0.45" stroke-linecap="round" stroke-linejoin="round" />
<path d="M336,161 q6,6 12,5" fill="none" stroke="#d4d4d4" stroke-width="0.45" stroke-linecap="round" stroke-linejoin="round" />
<path d="M262,203 q8,-3 18,1 q-9,3 -18,-1" fill="none" stroke="#dadada" stroke-width="0.45" stroke-linecap="round" stroke-linejoin="round" />
<path d="M287,205 q9,-4 20,0 q-9,4 -20,0" fill="none" stroke="#c4c4c4" stroke-width="0.45" stroke-linecap="round" stroke-linejoin="round" />
<path d="M290,206 q6,3 12,-2" fill="none" stroke="#5b9be2" stroke-width="0.45" stroke-linecap="round" stroke-linejoin="round" />
<path d="M297,203.5 q7,-3 14,-1 q-7,3 -14,1" fill="none" stroke="#6a8a9a" stroke-width="0.5" stroke-linecap="round" stroke-linejoin="round" />
<path d="M300,207 q5,2 11,-1" fill="none" stroke="#3a9a5a" stroke-width="0.45" stroke-linecap="round" stroke-linejoin="round" />
<path d="M266.3,107.2 Q268.33,110.76 270.93,113.83" fill="none" stroke="#666" stroke-width="1" stroke-linecap="round" stroke-linejoin="round" />
<path d="M270.93,113.83 Q273.53,116.91 276.7,119.5" fill="none" stroke="#5b9be2" stroke-width="1" stroke-linecap="round" stroke-linejoin="round" />
<path d="M276.7,119.5 Q279.07,116.53 281.85,114.01" fill="none" stroke="#5b9be2" stroke-width="1" stroke-linecap="round" stroke-linejoin="round" />
<path d="M281.85,114.01 Q284.62,111.48 287.8,109.4" fill="none" stroke="#666" stroke-width="1" stroke-linecap="round" stroke-linejoin="round" />
<path d="M287.8,109.4 Q288.99,112.98 290.72,116.28" fill="none" stroke="#666" stroke-width="1" stroke-linecap="round" stroke-linejoin="round" />
<path d="M290.72,116.28 Q292.44,119.58 294.7,122.6" fill="none" stroke="#5b9be2" stroke-width="1" stroke-linecap="round" stroke-linejoin="round" />
<path d="M276.7,119.5 Q278.84,122.44 280.54,125.61" fill="none" stroke="#5b9be2" stroke-width="1" stroke-linecap="round" stroke-linejoin="round" />
<path d="M280.54,125.61 Q282.24,128.79 283.5,132.2" fill="none" stroke="#7aa6d8" stroke-width="1" stroke-linecap="round" stroke-linejoin="round" />
<path d="M294.7,122.6 Q291.57,124.62 288.77,127.02" fill="none" stroke="#5b9be2" stroke-width="1" stroke-linecap="round" stroke-linejoin="round" />
<path d="M288.77,127.02 Q285.97,129.42 283.5,132.2" fill="none" stroke="#5b9be2" stroke-width="1" stroke-linecap="round" stroke-linejoin="round" />
<path d="M323.4,149.5 Q321.16,152.71 319.46,156.19" fill="none" stroke="#5b9be2" stroke-width="1" stroke-linecap="round" stroke-linejoin="round" />
<path d="M319.46,156.19 Q317.76,159.66 316.6,163.4" fill="none" stroke="#5b9be2" stroke-width="1" stroke-linecap="round" stroke-linejoin="round" />
<path d="M316.6,163.4 Q319.77,165.39 322.62,167.77" fill="none" stroke="#666" stroke-width="1" stroke-linecap="round" stroke-linejoin="round" />
<path d="M322.62,167.77 Q325.47,170.14 328,172.9" fill="none" stroke="#666" stroke-width="1" stroke-linecap="round" stroke-linejoin="round" />
<path d="M328,172.9 Q330.26,169.74 331.99,166.32" fill="none" stroke="#5b9be2" stroke-width="1" stroke-linecap="round" stroke-linejoin="round" />
<path d="M331.99,166.32 Q333.71,162.89 334.9,159.2" fill="none" stroke="#5b9be2" stroke-width="1" stroke-linecap="round" stroke-linejoin="round" />
<path d="M334.9,159.2 Q336.85,155.73 339.28,152.63" fill="none" stroke="#5b9be2" stroke-width="1" stroke-linecap="round" stroke-linejoin="round" />
<path d="M339.28,152.63 Q341.7,149.53 344.6,146.8" fill="none" stroke="#5b9be2" stroke-width="1" stroke-linecap="round" stroke-linejoin="round" />
<path d="M316.6,163.4 Q313.71,166.13 311.21,169.18" fill="none" stroke="#5b9be2" stroke-width="1" stroke-linecap="round" stroke-linejoin="round" />
<path d="M311.21,169.18 Q308.71,172.23 306.6,175.6" fill="none" stroke="#5b9be2" stroke-width="1" stroke-linecap="round" stroke-linejoin="round" />
<path d="M323.4,149.5 Q326.53,151.62 329.41,154.04" fill="none" stroke="#666" stroke-width="1" stroke-linecap="round" stroke-linejoin="round" />
<path d="M329.41,154.04 Q332.28,156.47 334.9,159.2" fill="none" stroke="#666" stroke-width="1" stroke-linecap="round" stroke-linejoin="round" />
<path d="M266.3,190.4 Q268.45,193.77 271.05,196.74" fill="none" stroke="#666" stroke-width="1" stroke-linecap="round" stroke-linejoin="round" />
<path d="M271.05,196.74 Q273.65,199.72 276.7,202.3" fill="none" stroke="#5b9be2" stroke-width="1" stroke-linecap="round" stroke-linejoin="round" />
<path d="M276.7,202.3 Q279.2,199.25 282.1,196.65" fill="none" stroke="#5b9be2" stroke-width="1" stroke-linecap="round" stroke-linejoin="round" />
<path d="M282.1,196.65 Q285,194.05 288.3,191.9" fill="none" stroke="#5b9be2" stroke-width="1" stroke-linecap="round" stroke-linejoin="round" />
<path d="M288.3,191.9 Q289.45,195.32 291.05,198.52" fill="none" stroke="#666" stroke-width="1" stroke-linecap="round" stroke-linejoin="round" />
<path d="M291.05,198.52 Q292.65,201.72 294.7,204.7" fill="none" stroke="#666" stroke-width="1" stroke-linecap="round" stroke-linejoin="round" />
<path d="M276.7,202.3 Q278.91,205.28 280.69,208.51" fill="none" stroke="#666" stroke-width="1" stroke-linecap="round" stroke-linejoin="round" />
<path d="M280.69,208.51 Q282.46,211.73 283.8,215.2" fill="none" stroke="#666" stroke-width="1" stroke-linecap="round" stroke-linejoin="round" />
<path d="M283.8,215.2 Q286.87,212.94 289.6,210.31" fill="none" stroke="#5b9be2" stroke-width="1" stroke-linecap="round" stroke-linejoin="round" />
<path d="M289.6,210.31 Q292.32,207.69 294.7,204.7" fill="none" stroke="#5b9be2" stroke-width="1" stroke-linecap="round" stroke-linejoin="round" />
<path d="M294.7,204.7 Q297.71,207.56 300.34,210.73" fill="none" stroke="#5b9be2" stroke-width="1" stroke-linecap="round" stroke-linejoin="round" />
<path d="M300.34,210.73 Q302.96,213.91 305.2,217.4" fill="none" stroke="#5b9be2" stroke-width="1" stroke-linecap="round" stroke-linejoin="round" />
<line x1="334.9" y1="159.2" x2="341" y2="150.5" stroke="#5b9be2" stroke-width="0.85" />
<line x1="305.2" y1="134.4" x2="312.2" y2="152" stroke="#333" stroke-width="0.45" />
<line x1="306.5" y1="137.5" x2="312.2" y2="152" stroke="#333" stroke-width="0.4" />
<line x1="312.2" y1="152" x2="316.6" y2="163.4" stroke="#333" stroke-width="0.45" />
<line x1="309.6" y1="157.4" x2="312.7" y2="150.2" stroke="#e88060" stroke-width="0.7" />
<line x1="294.7" y1="204.7" x2="299.5" y2="193.9" stroke="#444" stroke-width="0.45" />
<line x1="301.3" y1="119.7" x2="337.8" y2="119.2" stroke="#3db83d" stroke-width="1.1" />
<line x1="301.3" y1="119.7" x2="301.3" y2="204.8" stroke="#3db83d" stroke-width="1.1" />
<line x1="301.3" y1="119.7" x2="292.8" y2="127.2" stroke="#3db83d" stroke-width="0.9" />
<line x1="296.2" y1="156.8" x2="301.3" y2="156.8" stroke="#3db83d" stroke-width="0.8" />
<circle cx="301.3" cy="119.7" r="0.75" fill="#333" stroke="none" stroke-width="0.3"/>
<circle cx="266.3" cy="107.2" r="1.1" fill="#8d55da" stroke="none" stroke-width="0.3"/>
<circle cx="287.8" cy="109.4" r="1.1" fill="#8d55da" stroke="none" stroke-width="0.3"/>
<circle cx="283.5" cy="132.2" r="1.1" fill="#8d55da" stroke="none" stroke-width="0.3"/>
<circle cx="305.2" cy="134.4" r="1.1" fill="#8d55da" stroke="none" stroke-width="0.3"/>
<circle cx="323.4" cy="149.5" r="1.1" fill="#8d55da" stroke="none" stroke-width="0.3"/>
<circle cx="344.6" cy="146.8" r="1.1" fill="#8d55da" stroke="none" stroke-width="0.3"/>
<circle cx="328" cy="172.9" r="1.1" fill="#8d55da" stroke="none" stroke-width="0.3"/>
<circle cx="306.6" cy="175.6" r="1.1" fill="#8d55da" stroke="none" stroke-width="0.3"/>
<circle cx="266.3" cy="190.4" r="1.1" fill="#8d55da" stroke="none" stroke-width="0.3"/>
<circle cx="288.3" cy="191.9" r="1.1" fill="#8d55da" stroke="none" stroke-width="0.3"/>
<circle cx="283.8" cy="215.2" r="1.1" fill="#8d55da" stroke="none" stroke-width="0.3"/>
<circle cx="305.2" cy="217.4" r="1.1" fill="#8d55da" stroke="none" stroke-width="0.3"/>
<circle cx="276.7" cy="119.5" r="1.1" fill="#e25858" stroke="none" stroke-width="0.3"/>
<circle cx="294.7" cy="122.6" r="1.1" fill="#e25858" stroke="none" stroke-width="0.3"/>
<circle cx="316.6" cy="163.4" r="1.1" fill="#e25858" stroke="none" stroke-width="0.3"/>
<circle cx="334.9" cy="159.2" r="1.1" fill="#e25858" stroke="none" stroke-width="0.3"/>
<circle cx="276.7" cy="202.3" r="1.1" fill="#e25858" stroke="none" stroke-width="0.3"/>
<circle cx="294.7" cy="204.7" r="1.1" fill="#e25858" stroke="none" stroke-width="0.3"/>
<circle cx="299.5" cy="193.9" r="0.8" fill="#e8744a" stroke="none" stroke-width="0.3"/>
<circle cx="301.3" cy="195.5" r="0.75" fill="#e8744a" stroke="none" stroke-width="0.3"/>
<text x="302.8" y="117.6" font-size="3.4" text-anchor="middle" font-weight="bold" fill="#333" stroke="#333" stroke-width="0.1" >b</text>
<text x="337.3" y="123.9" font-size="3.6" text-anchor="middle" font-weight="bold" fill="#3db83d" stroke="#3db83d" stroke-width="0.11" >X2</text>
<text x="293.6" y="128.1" font-size="3.6" text-anchor="middle" font-weight="bold" fill="#3db83d" stroke="#3db83d" stroke-width="0.11" >X3</text>
<text x="302.5" y="207.9" font-size="3.6" text-anchor="middle" font-weight="bold" fill="#3db83d" stroke="#3db83d" stroke-width="0.11" >X1</text>
<text x="334.2" y="197.9" font-size="3.4" text-anchor="middle" font-weight="bold" fill="#333" stroke="#333" stroke-width="0.1" >a</text>
<text x="320.6" y="203.7" font-size="3.4" text-anchor="middle" font-weight="bold" fill="#333" stroke="#333" stroke-width="0.1" >c</text>
<circle cx="330.6" cy="199.4" r="0.75" fill="#222" stroke="none" stroke-width="0.3"/>
<circle cx="317.4" cy="204.6" r="0.75" fill="#222" stroke="none" stroke-width="0.3"/>
<text x="281" y="157.9" font-size="4.25" text-anchor="middle" font-weight="bold" fill="#1e1e1e" stroke="#1e1e1e" stroke-width="0.13" >26.1474(12)  Å</text>
<text x="310.2" y="134.9" font-size="3.8" text-anchor="middle" font-weight="bold" fill="#1e1e1e" stroke="#1e1e1e" stroke-width="0.11" >Fe1</text>
<text x="317.9" y="150.7" font-size="3.8" text-anchor="middle" font-weight="bold" fill="#1e1e1e" stroke="#1e1e1e" stroke-width="0.11" >C2</text>
<text x="311.2" y="164.8" font-size="3.8" text-anchor="middle" font-weight="bold" fill="#1e1e1e" stroke="#1e1e1e" stroke-width="0.11" >Fe2</text>
<text x="301.5" y="176.4" font-size="3.8" text-anchor="middle" font-weight="bold" fill="#1e1e1e" stroke="#1e1e1e" stroke-width="0.11" >Fe1</text>
<line x1="313.2" y1="149.5" x2="315.6" y2="149.5" stroke="#333" stroke-width="0.45" />
<text x="291" y="191.1" font-size="3.8" text-anchor="middle" font-weight="bold" fill="#1e1e1e" stroke="#1e1e1e" stroke-width="0.11" >C3</text>
<text x="315.6" y="190" font-size="3.8" text-anchor="middle" font-weight="bold" fill="#1e1e1e" stroke="#1e1e1e" stroke-width="0.11" >8.965 Å</text>
<text x="314.6" y="197.2" font-size="3.8" text-anchor="middle" font-weight="bold" fill="#1e1e1e" stroke="#1e1e1e" stroke-width="0.11" >3.501 Å</text>
<text x="283.2" y="192.9" font-size="3.8" text-anchor="middle" font-weight="bold" fill="#1e1e1e" stroke="#1e1e1e" stroke-width="0.11" >Fe3</text>
<text x="270.4" y="203.7" font-size="3.8" text-anchor="middle" font-weight="bold" fill="#1e1e1e" stroke="#1e1e1e" stroke-width="0.11" >Fe2''</text>
<text x="289.8" y="206.2" font-size="3.8" text-anchor="middle" font-weight="bold" fill="#1e1e1e" stroke="#1e1e1e" stroke-width="0.11" >Fe2'</text>
<text x="277.4" y="215.7" font-size="3.8" text-anchor="middle" font-weight="bold" fill="#1e1e1e" stroke="#1e1e1e" stroke-width="0.11" >Fe3''</text>
<line x1="302.7" y1="188.6" x2="308.2" y2="188.6" stroke="#222" stroke-width="0.6" />
<polygon points="308.9,188.6 307.2,187.7 307.2,189.5" fill="#222"/>
<line x1="301.3" y1="195.7" x2="307.2" y2="195.7" stroke="#e8744a" stroke-width="0.7" />
<polygon points="307.9,195.7 306.2,194.8 306.2,196.6" fill="#e8744a"/>
</svg></body></html>
